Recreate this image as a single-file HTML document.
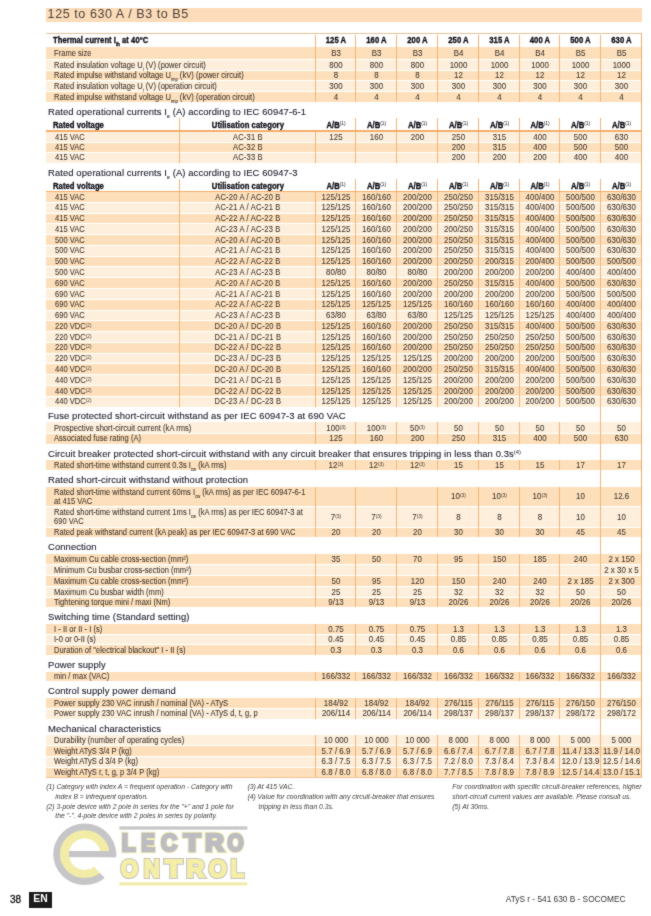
<!DOCTYPE html>
<html><head><meta charset="utf-8"><style>
html,body{margin:0;padding:0;background:#fff;}
body{width:651px;height:916px;position:relative;overflow:hidden;font-family:"Liberation Sans",sans-serif;}
div{position:absolute;}
#wrap{left:0;top:0;width:651px;height:916px;background:#fff;filter:url(#soft);}
.t{white-space:nowrap;-webkit-text-stroke:0.08px currentColor;}
.b{-webkit-text-stroke:0.35px currentColor !important;}
.h{-webkit-text-stroke:0.12px currentColor !important;}
.sup{-webkit-text-stroke:0 !important;font-weight:normal;font-size:0.62em;vertical-align:0.45em;line-height:0;letter-spacing:0;}
.sub{font-size:0.55em;vertical-align:-0.6em;line-height:0;letter-spacing:0;}
</style></head><body><svg width="0" height="0" style="position:absolute"><filter id="soft" x="0" y="0" width="100%" height="100%" color-interpolation-filters="sRGB"><feConvolveMatrix order="3" kernelMatrix="1 2 1 2 20 2 1 2 1" divisor="32.0" edgeMode="duplicate"/></filter></svg><div id="wrap">
<div style="left:46.00px;top:8.00px;width:595.50px;height:14.00px;background:#fcdbb8;"></div>
<div class="t" style="top:8.13px;font-size:12.6px;line-height:12.6px;color:#4a423c;font-weight:normal;font-style:normal;letter-spacing:0.54px;left:47.60px;white-space:nowrap;-webkit-text-stroke:0;">125 to 630 A / B3 to B5</div>
<div style="left:46.00px;top:33.00px;width:595.50px;height:1.40px;background:#ecc09a;"></div>
<div style="left:46.00px;top:46.80px;width:595.50px;height:12.40px;background:#fde0bb;"></div>
<div style="left:46.00px;top:59.20px;width:595.50px;height:11.20px;background:#fdefdc;"></div>
<div style="left:46.00px;top:59.00px;width:595.50px;height:1.00px;background:#ffffff;"></div>
<div style="left:46.00px;top:70.40px;width:595.50px;height:10.20px;background:#fde0bb;"></div>
<div style="left:46.00px;top:70.00px;width:595.50px;height:1.00px;background:#ffffff;"></div>
<div style="left:46.00px;top:80.60px;width:595.50px;height:10.60px;background:#fdefdc;"></div>
<div style="left:46.00px;top:80.00px;width:595.50px;height:1.00px;background:#ffffff;"></div>
<div style="left:46.00px;top:91.20px;width:595.50px;height:11.20px;background:#fde0bb;"></div>
<div style="left:46.00px;top:91.00px;width:595.50px;height:1.00px;background:#ffffff;"></div>
<div style="left:315.00px;top:34.50px;width:1.00px;height:67.90px;background:#f5b374;"></div>
<div style="left:355.00px;top:34.50px;width:1.00px;height:67.90px;background:#f5b374;"></div>
<div style="left:396.00px;top:34.50px;width:1.00px;height:67.90px;background:#f5b374;"></div>
<div style="left:437.00px;top:34.50px;width:1.00px;height:67.90px;background:#f5b374;"></div>
<div style="left:478.00px;top:34.50px;width:1.00px;height:67.90px;background:#f5b374;"></div>
<div style="left:519.00px;top:34.50px;width:1.00px;height:67.90px;background:#f5b374;"></div>
<div style="left:559.00px;top:34.50px;width:1.00px;height:67.90px;background:#f5b374;"></div>
<div style="left:600.00px;top:34.50px;width:1.00px;height:67.90px;background:#f5b374;"></div>
<div class="t" style="top:48.72px;font-size:8.6px;line-height:8.6px;color:#3f352e;font-weight:normal;font-style:normal;letter-spacing:0.03px;left:54.00px;transform:scaleX(0.878);transform-origin:0 0;">Frame size</div>
<div class="t" style="top:48.72px;font-size:8.6px;line-height:8.6px;color:#3f352e;font-weight:normal;font-style:normal;letter-spacing:0.03px;left:315.50px;width:40.00px;text-align:center;transform:scaleX(0.92);transform-origin:50% 0;">B3</div>
<div class="t" style="top:48.72px;font-size:8.6px;line-height:8.6px;color:#3f352e;font-weight:normal;font-style:normal;letter-spacing:0.03px;left:355.50px;width:41.00px;text-align:center;transform:scaleX(0.92);transform-origin:50% 0;">B3</div>
<div class="t" style="top:48.72px;font-size:8.6px;line-height:8.6px;color:#3f352e;font-weight:normal;font-style:normal;letter-spacing:0.03px;left:396.50px;width:41.00px;text-align:center;transform:scaleX(0.92);transform-origin:50% 0;">B3</div>
<div class="t" style="top:48.72px;font-size:8.6px;line-height:8.6px;color:#3f352e;font-weight:normal;font-style:normal;letter-spacing:0.03px;left:437.50px;width:41.00px;text-align:center;transform:scaleX(0.92);transform-origin:50% 0;">B4</div>
<div class="t" style="top:48.72px;font-size:8.6px;line-height:8.6px;color:#3f352e;font-weight:normal;font-style:normal;letter-spacing:0.03px;left:478.50px;width:41.00px;text-align:center;transform:scaleX(0.92);transform-origin:50% 0;">B4</div>
<div class="t" style="top:48.72px;font-size:8.6px;line-height:8.6px;color:#3f352e;font-weight:normal;font-style:normal;letter-spacing:0.03px;left:519.50px;width:40.00px;text-align:center;transform:scaleX(0.92);transform-origin:50% 0;">B4</div>
<div class="t" style="top:48.72px;font-size:8.6px;line-height:8.6px;color:#3f352e;font-weight:normal;font-style:normal;letter-spacing:0.03px;left:559.50px;width:41.00px;text-align:center;transform:scaleX(0.92);transform-origin:50% 0;">B5</div>
<div class="t" style="top:48.72px;font-size:8.6px;line-height:8.6px;color:#3f352e;font-weight:normal;font-style:normal;letter-spacing:0.03px;left:600.50px;width:41.00px;text-align:center;transform:scaleX(0.92);transform-origin:50% 0;">B5</div>
<div class="t" style="top:60.52px;font-size:8.6px;line-height:8.6px;color:#3f352e;font-weight:normal;font-style:normal;letter-spacing:0.03px;left:54.00px;transform:scaleX(0.878);transform-origin:0 0;">Rated insulation voltage U<span class="sub">i</span> (V) (power circuit)</div>
<div class="t" style="top:60.52px;font-size:8.6px;line-height:8.6px;color:#3f352e;font-weight:normal;font-style:normal;letter-spacing:0.03px;left:315.50px;width:40.00px;text-align:center;transform:scaleX(0.92);transform-origin:50% 0;">800</div>
<div class="t" style="top:60.52px;font-size:8.6px;line-height:8.6px;color:#3f352e;font-weight:normal;font-style:normal;letter-spacing:0.03px;left:355.50px;width:41.00px;text-align:center;transform:scaleX(0.92);transform-origin:50% 0;">800</div>
<div class="t" style="top:60.52px;font-size:8.6px;line-height:8.6px;color:#3f352e;font-weight:normal;font-style:normal;letter-spacing:0.03px;left:396.50px;width:41.00px;text-align:center;transform:scaleX(0.92);transform-origin:50% 0;">800</div>
<div class="t" style="top:60.52px;font-size:8.6px;line-height:8.6px;color:#3f352e;font-weight:normal;font-style:normal;letter-spacing:0.03px;left:437.50px;width:41.00px;text-align:center;transform:scaleX(0.92);transform-origin:50% 0;">1000</div>
<div class="t" style="top:60.52px;font-size:8.6px;line-height:8.6px;color:#3f352e;font-weight:normal;font-style:normal;letter-spacing:0.03px;left:478.50px;width:41.00px;text-align:center;transform:scaleX(0.92);transform-origin:50% 0;">1000</div>
<div class="t" style="top:60.52px;font-size:8.6px;line-height:8.6px;color:#3f352e;font-weight:normal;font-style:normal;letter-spacing:0.03px;left:519.50px;width:40.00px;text-align:center;transform:scaleX(0.92);transform-origin:50% 0;">1000</div>
<div class="t" style="top:60.52px;font-size:8.6px;line-height:8.6px;color:#3f352e;font-weight:normal;font-style:normal;letter-spacing:0.03px;left:559.50px;width:41.00px;text-align:center;transform:scaleX(0.92);transform-origin:50% 0;">1000</div>
<div class="t" style="top:60.52px;font-size:8.6px;line-height:8.6px;color:#3f352e;font-weight:normal;font-style:normal;letter-spacing:0.03px;left:600.50px;width:41.00px;text-align:center;transform:scaleX(0.92);transform-origin:50% 0;">1000</div>
<div class="t" style="top:71.22px;font-size:8.6px;line-height:8.6px;color:#3f352e;font-weight:normal;font-style:normal;letter-spacing:0.03px;left:54.00px;transform:scaleX(0.878);transform-origin:0 0;">Rated impulse withstand voltage U<span class="sub">imp</span> (kV) (power circuit)</div>
<div class="t" style="top:71.22px;font-size:8.6px;line-height:8.6px;color:#3f352e;font-weight:normal;font-style:normal;letter-spacing:0.03px;left:315.50px;width:40.00px;text-align:center;transform:scaleX(0.92);transform-origin:50% 0;">8</div>
<div class="t" style="top:71.22px;font-size:8.6px;line-height:8.6px;color:#3f352e;font-weight:normal;font-style:normal;letter-spacing:0.03px;left:355.50px;width:41.00px;text-align:center;transform:scaleX(0.92);transform-origin:50% 0;">8</div>
<div class="t" style="top:71.22px;font-size:8.6px;line-height:8.6px;color:#3f352e;font-weight:normal;font-style:normal;letter-spacing:0.03px;left:396.50px;width:41.00px;text-align:center;transform:scaleX(0.92);transform-origin:50% 0;">8</div>
<div class="t" style="top:71.22px;font-size:8.6px;line-height:8.6px;color:#3f352e;font-weight:normal;font-style:normal;letter-spacing:0.03px;left:437.50px;width:41.00px;text-align:center;transform:scaleX(0.92);transform-origin:50% 0;">12</div>
<div class="t" style="top:71.22px;font-size:8.6px;line-height:8.6px;color:#3f352e;font-weight:normal;font-style:normal;letter-spacing:0.03px;left:478.50px;width:41.00px;text-align:center;transform:scaleX(0.92);transform-origin:50% 0;">12</div>
<div class="t" style="top:71.22px;font-size:8.6px;line-height:8.6px;color:#3f352e;font-weight:normal;font-style:normal;letter-spacing:0.03px;left:519.50px;width:40.00px;text-align:center;transform:scaleX(0.92);transform-origin:50% 0;">12</div>
<div class="t" style="top:71.22px;font-size:8.6px;line-height:8.6px;color:#3f352e;font-weight:normal;font-style:normal;letter-spacing:0.03px;left:559.50px;width:41.00px;text-align:center;transform:scaleX(0.92);transform-origin:50% 0;">12</div>
<div class="t" style="top:71.22px;font-size:8.6px;line-height:8.6px;color:#3f352e;font-weight:normal;font-style:normal;letter-spacing:0.03px;left:600.50px;width:41.00px;text-align:center;transform:scaleX(0.92);transform-origin:50% 0;">12</div>
<div class="t" style="top:81.62px;font-size:8.6px;line-height:8.6px;color:#3f352e;font-weight:normal;font-style:normal;letter-spacing:0.03px;left:54.00px;transform:scaleX(0.878);transform-origin:0 0;">Rated insulation voltage U<span class="sub">i</span> (V) (operation circuit)</div>
<div class="t" style="top:81.62px;font-size:8.6px;line-height:8.6px;color:#3f352e;font-weight:normal;font-style:normal;letter-spacing:0.03px;left:315.50px;width:40.00px;text-align:center;transform:scaleX(0.92);transform-origin:50% 0;">300</div>
<div class="t" style="top:81.62px;font-size:8.6px;line-height:8.6px;color:#3f352e;font-weight:normal;font-style:normal;letter-spacing:0.03px;left:355.50px;width:41.00px;text-align:center;transform:scaleX(0.92);transform-origin:50% 0;">300</div>
<div class="t" style="top:81.62px;font-size:8.6px;line-height:8.6px;color:#3f352e;font-weight:normal;font-style:normal;letter-spacing:0.03px;left:396.50px;width:41.00px;text-align:center;transform:scaleX(0.92);transform-origin:50% 0;">300</div>
<div class="t" style="top:81.62px;font-size:8.6px;line-height:8.6px;color:#3f352e;font-weight:normal;font-style:normal;letter-spacing:0.03px;left:437.50px;width:41.00px;text-align:center;transform:scaleX(0.92);transform-origin:50% 0;">300</div>
<div class="t" style="top:81.62px;font-size:8.6px;line-height:8.6px;color:#3f352e;font-weight:normal;font-style:normal;letter-spacing:0.03px;left:478.50px;width:41.00px;text-align:center;transform:scaleX(0.92);transform-origin:50% 0;">300</div>
<div class="t" style="top:81.62px;font-size:8.6px;line-height:8.6px;color:#3f352e;font-weight:normal;font-style:normal;letter-spacing:0.03px;left:519.50px;width:40.00px;text-align:center;transform:scaleX(0.92);transform-origin:50% 0;">300</div>
<div class="t" style="top:81.62px;font-size:8.6px;line-height:8.6px;color:#3f352e;font-weight:normal;font-style:normal;letter-spacing:0.03px;left:559.50px;width:41.00px;text-align:center;transform:scaleX(0.92);transform-origin:50% 0;">300</div>
<div class="t" style="top:81.62px;font-size:8.6px;line-height:8.6px;color:#3f352e;font-weight:normal;font-style:normal;letter-spacing:0.03px;left:600.50px;width:41.00px;text-align:center;transform:scaleX(0.92);transform-origin:50% 0;">300</div>
<div class="t" style="top:92.52px;font-size:8.6px;line-height:8.6px;color:#3f352e;font-weight:normal;font-style:normal;letter-spacing:0.03px;left:54.00px;transform:scaleX(0.878);transform-origin:0 0;">Rated impulse withstand voltage U<span class="sub">imp</span> (kV) (operation circuit)</div>
<div class="t" style="top:92.52px;font-size:8.6px;line-height:8.6px;color:#3f352e;font-weight:normal;font-style:normal;letter-spacing:0.03px;left:315.50px;width:40.00px;text-align:center;transform:scaleX(0.92);transform-origin:50% 0;">4</div>
<div class="t" style="top:92.52px;font-size:8.6px;line-height:8.6px;color:#3f352e;font-weight:normal;font-style:normal;letter-spacing:0.03px;left:355.50px;width:41.00px;text-align:center;transform:scaleX(0.92);transform-origin:50% 0;">4</div>
<div class="t" style="top:92.52px;font-size:8.6px;line-height:8.6px;color:#3f352e;font-weight:normal;font-style:normal;letter-spacing:0.03px;left:396.50px;width:41.00px;text-align:center;transform:scaleX(0.92);transform-origin:50% 0;">4</div>
<div class="t" style="top:92.52px;font-size:8.6px;line-height:8.6px;color:#3f352e;font-weight:normal;font-style:normal;letter-spacing:0.03px;left:437.50px;width:41.00px;text-align:center;transform:scaleX(0.92);transform-origin:50% 0;">4</div>
<div class="t" style="top:92.52px;font-size:8.6px;line-height:8.6px;color:#3f352e;font-weight:normal;font-style:normal;letter-spacing:0.03px;left:478.50px;width:41.00px;text-align:center;transform:scaleX(0.92);transform-origin:50% 0;">4</div>
<div class="t" style="top:92.52px;font-size:8.6px;line-height:8.6px;color:#3f352e;font-weight:normal;font-style:normal;letter-spacing:0.03px;left:519.50px;width:40.00px;text-align:center;transform:scaleX(0.92);transform-origin:50% 0;">4</div>
<div class="t" style="top:92.52px;font-size:8.6px;line-height:8.6px;color:#3f352e;font-weight:normal;font-style:normal;letter-spacing:0.03px;left:559.50px;width:41.00px;text-align:center;transform:scaleX(0.92);transform-origin:50% 0;">4</div>
<div class="t" style="top:92.52px;font-size:8.6px;line-height:8.6px;color:#3f352e;font-weight:normal;font-style:normal;letter-spacing:0.03px;left:600.50px;width:41.00px;text-align:center;transform:scaleX(0.92);transform-origin:50% 0;">4</div>
<div class="t b" style="top:35.93px;font-size:9.3px;line-height:9.3px;color:#0e0e18;font-weight:bold;font-style:normal;letter-spacing:0.05px;left:52.80px;transform:scaleX(0.82);transform-origin:0 0;white-space:nowrap;">Thermal current I<span class="sub">th</span> at 40°C</div>
<div class="t b" style="top:35.34px;font-size:9.4px;line-height:9.4px;color:#0e0e18;font-weight:bold;font-style:normal;letter-spacing:0.05px;left:315.50px;width:40.00px;text-align:center;transform:scaleX(0.82);transform-origin:50% 0;">125 A</div>
<div class="t b" style="top:35.34px;font-size:9.4px;line-height:9.4px;color:#0e0e18;font-weight:bold;font-style:normal;letter-spacing:0.05px;left:355.50px;width:41.00px;text-align:center;transform:scaleX(0.82);transform-origin:50% 0;">160 A</div>
<div class="t b" style="top:35.34px;font-size:9.4px;line-height:9.4px;color:#0e0e18;font-weight:bold;font-style:normal;letter-spacing:0.05px;left:396.50px;width:41.00px;text-align:center;transform:scaleX(0.82);transform-origin:50% 0;">200 A</div>
<div class="t b" style="top:35.34px;font-size:9.4px;line-height:9.4px;color:#0e0e18;font-weight:bold;font-style:normal;letter-spacing:0.05px;left:437.50px;width:41.00px;text-align:center;transform:scaleX(0.82);transform-origin:50% 0;">250 A</div>
<div class="t b" style="top:35.34px;font-size:9.4px;line-height:9.4px;color:#0e0e18;font-weight:bold;font-style:normal;letter-spacing:0.05px;left:478.50px;width:41.00px;text-align:center;transform:scaleX(0.82);transform-origin:50% 0;">315 A</div>
<div class="t b" style="top:35.34px;font-size:9.4px;line-height:9.4px;color:#0e0e18;font-weight:bold;font-style:normal;letter-spacing:0.05px;left:519.50px;width:40.00px;text-align:center;transform:scaleX(0.82);transform-origin:50% 0;">400 A</div>
<div class="t b" style="top:35.34px;font-size:9.4px;line-height:9.4px;color:#0e0e18;font-weight:bold;font-style:normal;letter-spacing:0.05px;left:559.50px;width:41.00px;text-align:center;transform:scaleX(0.82);transform-origin:50% 0;">500 A</div>
<div class="t b" style="top:35.34px;font-size:9.4px;line-height:9.4px;color:#0e0e18;font-weight:bold;font-style:normal;letter-spacing:0.05px;left:600.50px;width:41.00px;text-align:center;transform:scaleX(0.82);transform-origin:50% 0;">630 A</div>
<div class="t h" style="top:107.02px;font-size:9.9px;line-height:9.9px;color:#1c1e2c;font-weight:normal;font-style:normal;letter-spacing:0.1px;left:47.80px;transform:scaleX(0.955);transform-origin:0 0;white-space:nowrap;">Rated operational currents I<span class="sub">e</span> (A) according to IEC 60947-6-1</div>
<div style="left:46.00px;top:131.80px;width:595.50px;height:10.40px;background:#fdefdc;"></div>
<div style="left:46.00px;top:142.20px;width:595.50px;height:10.20px;background:#fde0bb;"></div>
<div style="left:46.00px;top:142.00px;width:595.50px;height:1.00px;background:#ffffff;"></div>
<div style="left:46.00px;top:152.40px;width:595.50px;height:10.30px;background:#fdefdc;"></div>
<div style="left:46.00px;top:152.00px;width:595.50px;height:1.00px;background:#ffffff;"></div>
<div style="left:179.00px;top:118.00px;width:1.00px;height:44.70px;background:#f5b374;"></div>
<div style="left:315.00px;top:131.80px;width:1.00px;height:30.90px;background:#f5b374;"></div>
<div style="left:355.00px;top:118.00px;width:1.00px;height:44.70px;background:#f5b374;"></div>
<div style="left:396.00px;top:118.00px;width:1.00px;height:44.70px;background:#f5b374;"></div>
<div style="left:437.00px;top:118.00px;width:1.00px;height:44.70px;background:#f5b374;"></div>
<div style="left:478.00px;top:118.00px;width:1.00px;height:44.70px;background:#f5b374;"></div>
<div style="left:519.00px;top:118.00px;width:1.00px;height:44.70px;background:#f5b374;"></div>
<div style="left:559.00px;top:118.00px;width:1.00px;height:44.70px;background:#f5b374;"></div>
<div style="left:600.00px;top:118.00px;width:1.00px;height:44.70px;background:#f5b374;"></div>
<div class="t" style="top:132.72px;font-size:8.6px;line-height:8.6px;color:#3f352e;font-weight:normal;font-style:normal;letter-spacing:0.03px;left:54.50px;transform:scaleX(0.878);transform-origin:0 0;">415 VAC</div>
<div class="t" style="top:132.72px;font-size:8.6px;line-height:8.6px;color:#3f352e;font-weight:normal;font-style:normal;letter-spacing:0.22px;left:179.50px;width:135.80px;text-align:center;transform:scaleX(0.878);transform-origin:50% 0;">AC-31 B</div>
<div class="t" style="top:132.72px;font-size:8.6px;line-height:8.6px;color:#3f352e;font-weight:normal;font-style:normal;letter-spacing:0.03px;left:315.50px;width:40.00px;text-align:center;transform:scaleX(0.92);transform-origin:50% 0;">125</div>
<div class="t" style="top:132.72px;font-size:8.6px;line-height:8.6px;color:#3f352e;font-weight:normal;font-style:normal;letter-spacing:0.03px;left:355.50px;width:41.00px;text-align:center;transform:scaleX(0.92);transform-origin:50% 0;">160</div>
<div class="t" style="top:132.72px;font-size:8.6px;line-height:8.6px;color:#3f352e;font-weight:normal;font-style:normal;letter-spacing:0.03px;left:396.50px;width:41.00px;text-align:center;transform:scaleX(0.92);transform-origin:50% 0;">200</div>
<div class="t" style="top:132.72px;font-size:8.6px;line-height:8.6px;color:#3f352e;font-weight:normal;font-style:normal;letter-spacing:0.03px;left:437.50px;width:41.00px;text-align:center;transform:scaleX(0.92);transform-origin:50% 0;">250</div>
<div class="t" style="top:132.72px;font-size:8.6px;line-height:8.6px;color:#3f352e;font-weight:normal;font-style:normal;letter-spacing:0.03px;left:478.50px;width:41.00px;text-align:center;transform:scaleX(0.92);transform-origin:50% 0;">315</div>
<div class="t" style="top:132.72px;font-size:8.6px;line-height:8.6px;color:#3f352e;font-weight:normal;font-style:normal;letter-spacing:0.03px;left:519.50px;width:40.00px;text-align:center;transform:scaleX(0.92);transform-origin:50% 0;">400</div>
<div class="t" style="top:132.72px;font-size:8.6px;line-height:8.6px;color:#3f352e;font-weight:normal;font-style:normal;letter-spacing:0.03px;left:559.50px;width:41.00px;text-align:center;transform:scaleX(0.92);transform-origin:50% 0;">500</div>
<div class="t" style="top:132.72px;font-size:8.6px;line-height:8.6px;color:#3f352e;font-weight:normal;font-style:normal;letter-spacing:0.03px;left:600.50px;width:41.00px;text-align:center;transform:scaleX(0.92);transform-origin:50% 0;">630</div>
<div class="t" style="top:143.02px;font-size:8.6px;line-height:8.6px;color:#3f352e;font-weight:normal;font-style:normal;letter-spacing:0.03px;left:54.50px;transform:scaleX(0.878);transform-origin:0 0;">415 VAC</div>
<div class="t" style="top:143.02px;font-size:8.6px;line-height:8.6px;color:#3f352e;font-weight:normal;font-style:normal;letter-spacing:0.22px;left:179.50px;width:135.80px;text-align:center;transform:scaleX(0.878);transform-origin:50% 0;">AC-32 B</div>
<div class="t" style="top:143.02px;font-size:8.6px;line-height:8.6px;color:#3f352e;font-weight:normal;font-style:normal;letter-spacing:0.03px;left:437.50px;width:41.00px;text-align:center;transform:scaleX(0.92);transform-origin:50% 0;">200</div>
<div class="t" style="top:143.02px;font-size:8.6px;line-height:8.6px;color:#3f352e;font-weight:normal;font-style:normal;letter-spacing:0.03px;left:478.50px;width:41.00px;text-align:center;transform:scaleX(0.92);transform-origin:50% 0;">315</div>
<div class="t" style="top:143.02px;font-size:8.6px;line-height:8.6px;color:#3f352e;font-weight:normal;font-style:normal;letter-spacing:0.03px;left:519.50px;width:40.00px;text-align:center;transform:scaleX(0.92);transform-origin:50% 0;">400</div>
<div class="t" style="top:143.02px;font-size:8.6px;line-height:8.6px;color:#3f352e;font-weight:normal;font-style:normal;letter-spacing:0.03px;left:559.50px;width:41.00px;text-align:center;transform:scaleX(0.92);transform-origin:50% 0;">500</div>
<div class="t" style="top:143.02px;font-size:8.6px;line-height:8.6px;color:#3f352e;font-weight:normal;font-style:normal;letter-spacing:0.03px;left:600.50px;width:41.00px;text-align:center;transform:scaleX(0.92);transform-origin:50% 0;">500</div>
<div class="t" style="top:153.27px;font-size:8.6px;line-height:8.6px;color:#3f352e;font-weight:normal;font-style:normal;letter-spacing:0.03px;left:54.50px;transform:scaleX(0.878);transform-origin:0 0;">415 VAC</div>
<div class="t" style="top:153.27px;font-size:8.6px;line-height:8.6px;color:#3f352e;font-weight:normal;font-style:normal;letter-spacing:0.22px;left:179.50px;width:135.80px;text-align:center;transform:scaleX(0.878);transform-origin:50% 0;">AC-33 B</div>
<div class="t" style="top:153.27px;font-size:8.6px;line-height:8.6px;color:#3f352e;font-weight:normal;font-style:normal;letter-spacing:0.03px;left:437.50px;width:41.00px;text-align:center;transform:scaleX(0.92);transform-origin:50% 0;">200</div>
<div class="t" style="top:153.27px;font-size:8.6px;line-height:8.6px;color:#3f352e;font-weight:normal;font-style:normal;letter-spacing:0.03px;left:478.50px;width:41.00px;text-align:center;transform:scaleX(0.92);transform-origin:50% 0;">200</div>
<div class="t" style="top:153.27px;font-size:8.6px;line-height:8.6px;color:#3f352e;font-weight:normal;font-style:normal;letter-spacing:0.03px;left:519.50px;width:40.00px;text-align:center;transform:scaleX(0.92);transform-origin:50% 0;">200</div>
<div class="t" style="top:153.27px;font-size:8.6px;line-height:8.6px;color:#3f352e;font-weight:normal;font-style:normal;letter-spacing:0.03px;left:559.50px;width:41.00px;text-align:center;transform:scaleX(0.92);transform-origin:50% 0;">400</div>
<div class="t" style="top:153.27px;font-size:8.6px;line-height:8.6px;color:#3f352e;font-weight:normal;font-style:normal;letter-spacing:0.03px;left:600.50px;width:41.00px;text-align:center;transform:scaleX(0.92);transform-origin:50% 0;">400</div>
<div class="t b" style="top:120.14px;font-size:9.4px;line-height:9.4px;color:#0e0e18;font-weight:bold;font-style:normal;letter-spacing:0.05px;left:53.00px;transform:scaleX(0.82);transform-origin:0 0;">Rated voltage</div>
<div class="t b" style="top:120.14px;font-size:9.4px;line-height:9.4px;color:#0e0e18;font-weight:bold;font-style:normal;letter-spacing:0.05px;left:179.50px;width:135.80px;text-align:center;transform:scaleX(0.82);transform-origin:50% 0;">Utilisation category</div>
<div class="t b" style="top:120.14px;font-size:9.4px;line-height:9.4px;color:#0e0e18;font-weight:bold;font-style:normal;letter-spacing:0.0px;left:315.50px;width:40.00px;text-align:center;transform:scaleX(0.82);transform-origin:50% 0;">A/B<span class="sup">(1)</span></div>
<div class="t b" style="top:120.14px;font-size:9.4px;line-height:9.4px;color:#0e0e18;font-weight:bold;font-style:normal;letter-spacing:0.0px;left:355.50px;width:41.00px;text-align:center;transform:scaleX(0.82);transform-origin:50% 0;">A/B<span class="sup">(1)</span></div>
<div class="t b" style="top:120.14px;font-size:9.4px;line-height:9.4px;color:#0e0e18;font-weight:bold;font-style:normal;letter-spacing:0.0px;left:396.50px;width:41.00px;text-align:center;transform:scaleX(0.82);transform-origin:50% 0;">A/B<span class="sup">(1)</span></div>
<div class="t b" style="top:120.14px;font-size:9.4px;line-height:9.4px;color:#0e0e18;font-weight:bold;font-style:normal;letter-spacing:0.0px;left:437.50px;width:41.00px;text-align:center;transform:scaleX(0.82);transform-origin:50% 0;">A/B<span class="sup">(1)</span></div>
<div class="t b" style="top:120.14px;font-size:9.4px;line-height:9.4px;color:#0e0e18;font-weight:bold;font-style:normal;letter-spacing:0.0px;left:478.50px;width:41.00px;text-align:center;transform:scaleX(0.82);transform-origin:50% 0;">A/B<span class="sup">(1)</span></div>
<div class="t b" style="top:120.14px;font-size:9.4px;line-height:9.4px;color:#0e0e18;font-weight:bold;font-style:normal;letter-spacing:0.0px;left:519.50px;width:40.00px;text-align:center;transform:scaleX(0.82);transform-origin:50% 0;">A/B<span class="sup">(1)</span></div>
<div class="t b" style="top:120.14px;font-size:9.4px;line-height:9.4px;color:#0e0e18;font-weight:bold;font-style:normal;letter-spacing:0.0px;left:559.50px;width:41.00px;text-align:center;transform:scaleX(0.82);transform-origin:50% 0;">A/B<span class="sup">(1)</span></div>
<div class="t b" style="top:120.14px;font-size:9.4px;line-height:9.4px;color:#0e0e18;font-weight:bold;font-style:normal;letter-spacing:0.0px;left:600.50px;width:41.00px;text-align:center;transform:scaleX(0.82);transform-origin:50% 0;">A/B<span class="sup">(1)</span></div>
<div style="left:46.00px;top:130.30px;width:595.50px;height:1.50px;background:#f4ae6c;"></div>
<div class="t h" style="top:168.02px;font-size:9.9px;line-height:9.9px;color:#1c1e2c;font-weight:normal;font-style:normal;letter-spacing:0.1px;left:47.80px;transform:scaleX(0.955);transform-origin:0 0;white-space:nowrap;">Rated operational currents I<span class="sub">e</span> (A) according to IEC 60947-3</div>
<div style="left:46.00px;top:191.50px;width:595.50px;height:10.78px;background:#fde0bb;"></div>
<div style="left:46.00px;top:202.28px;width:595.50px;height:10.78px;background:#fdefdc;"></div>
<div style="left:46.00px;top:202.00px;width:595.50px;height:1.00px;background:#ffffff;"></div>
<div style="left:46.00px;top:213.05px;width:595.50px;height:10.77px;background:#fde0bb;"></div>
<div style="left:46.00px;top:213.00px;width:595.50px;height:1.00px;background:#ffffff;"></div>
<div style="left:46.00px;top:223.82px;width:595.50px;height:10.78px;background:#fdefdc;"></div>
<div style="left:46.00px;top:223.00px;width:595.50px;height:1.00px;background:#ffffff;"></div>
<div style="left:46.00px;top:234.60px;width:595.50px;height:10.78px;background:#fde0bb;"></div>
<div style="left:46.00px;top:234.00px;width:595.50px;height:1.00px;background:#ffffff;"></div>
<div style="left:46.00px;top:245.38px;width:595.50px;height:10.77px;background:#fdefdc;"></div>
<div style="left:46.00px;top:245.00px;width:595.50px;height:1.00px;background:#ffffff;"></div>
<div style="left:46.00px;top:256.15px;width:595.50px;height:10.78px;background:#fde0bb;"></div>
<div style="left:46.00px;top:256.00px;width:595.50px;height:1.00px;background:#ffffff;"></div>
<div style="left:46.00px;top:266.93px;width:595.50px;height:10.77px;background:#fdefdc;"></div>
<div style="left:46.00px;top:266.00px;width:595.50px;height:1.00px;background:#ffffff;"></div>
<div style="left:46.00px;top:277.70px;width:595.50px;height:10.78px;background:#fde0bb;"></div>
<div style="left:46.00px;top:277.00px;width:595.50px;height:1.00px;background:#ffffff;"></div>
<div style="left:46.00px;top:288.48px;width:595.50px;height:10.77px;background:#fdefdc;"></div>
<div style="left:46.00px;top:288.00px;width:595.50px;height:1.00px;background:#ffffff;"></div>
<div style="left:46.00px;top:299.25px;width:595.50px;height:10.77px;background:#fde0bb;"></div>
<div style="left:46.00px;top:299.00px;width:595.50px;height:1.00px;background:#ffffff;"></div>
<div style="left:46.00px;top:310.02px;width:595.50px;height:10.78px;background:#fdefdc;"></div>
<div style="left:46.00px;top:310.00px;width:595.50px;height:1.00px;background:#ffffff;"></div>
<div style="left:46.00px;top:320.80px;width:595.50px;height:10.77px;background:#fde0bb;"></div>
<div style="left:46.00px;top:320.00px;width:595.50px;height:1.00px;background:#ffffff;"></div>
<div style="left:46.00px;top:331.57px;width:595.50px;height:10.78px;background:#fdefdc;"></div>
<div style="left:46.00px;top:331.00px;width:595.50px;height:1.00px;background:#ffffff;"></div>
<div style="left:46.00px;top:342.35px;width:595.50px;height:10.77px;background:#fde0bb;"></div>
<div style="left:46.00px;top:342.00px;width:595.50px;height:1.00px;background:#ffffff;"></div>
<div style="left:46.00px;top:353.12px;width:595.50px;height:10.77px;background:#fdefdc;"></div>
<div style="left:46.00px;top:353.00px;width:595.50px;height:1.00px;background:#ffffff;"></div>
<div style="left:46.00px;top:363.90px;width:595.50px;height:10.78px;background:#fde0bb;"></div>
<div style="left:46.00px;top:363.00px;width:595.50px;height:1.00px;background:#ffffff;"></div>
<div style="left:46.00px;top:374.68px;width:595.50px;height:10.77px;background:#fdefdc;"></div>
<div style="left:46.00px;top:374.00px;width:595.50px;height:1.00px;background:#ffffff;"></div>
<div style="left:46.00px;top:385.45px;width:595.50px;height:10.78px;background:#fde0bb;"></div>
<div style="left:46.00px;top:385.00px;width:595.50px;height:1.00px;background:#ffffff;"></div>
<div style="left:46.00px;top:396.23px;width:595.50px;height:10.77px;background:#fdefdc;"></div>
<div style="left:46.00px;top:396.00px;width:595.50px;height:1.00px;background:#ffffff;"></div>
<div style="left:179.00px;top:178.50px;width:1.00px;height:228.50px;background:#f5b374;"></div>
<div style="left:315.00px;top:191.50px;width:1.00px;height:215.50px;background:#f5b374;"></div>
<div style="left:355.00px;top:178.50px;width:1.00px;height:228.50px;background:#f5b374;"></div>
<div style="left:396.00px;top:178.50px;width:1.00px;height:228.50px;background:#f5b374;"></div>
<div style="left:437.00px;top:178.50px;width:1.00px;height:228.50px;background:#f5b374;"></div>
<div style="left:478.00px;top:178.50px;width:1.00px;height:228.50px;background:#f5b374;"></div>
<div style="left:519.00px;top:178.50px;width:1.00px;height:228.50px;background:#f5b374;"></div>
<div style="left:559.00px;top:178.50px;width:1.00px;height:228.50px;background:#f5b374;"></div>
<div style="left:600.00px;top:178.50px;width:1.00px;height:228.50px;background:#f5b374;"></div>
<div class="t" style="top:192.61px;font-size:8.6px;line-height:8.6px;color:#3f352e;font-weight:normal;font-style:normal;letter-spacing:0.03px;left:54.50px;transform:scaleX(0.878);transform-origin:0 0;">415 VAC</div>
<div class="t" style="top:192.61px;font-size:8.6px;line-height:8.6px;color:#3f352e;font-weight:normal;font-style:normal;letter-spacing:0.22px;left:179.50px;width:135.80px;text-align:center;transform:scaleX(0.878);transform-origin:50% 0;">AC-20 A / AC-20 B</div>
<div class="t" style="top:192.61px;font-size:8.6px;line-height:8.6px;color:#3f352e;font-weight:normal;font-style:normal;letter-spacing:0.03px;left:315.50px;width:40.00px;text-align:center;transform:scaleX(0.92);transform-origin:50% 0;">125/125</div>
<div class="t" style="top:192.61px;font-size:8.6px;line-height:8.6px;color:#3f352e;font-weight:normal;font-style:normal;letter-spacing:0.03px;left:355.50px;width:41.00px;text-align:center;transform:scaleX(0.92);transform-origin:50% 0;">160/160</div>
<div class="t" style="top:192.61px;font-size:8.6px;line-height:8.6px;color:#3f352e;font-weight:normal;font-style:normal;letter-spacing:0.03px;left:396.50px;width:41.00px;text-align:center;transform:scaleX(0.92);transform-origin:50% 0;">200/200</div>
<div class="t" style="top:192.61px;font-size:8.6px;line-height:8.6px;color:#3f352e;font-weight:normal;font-style:normal;letter-spacing:0.03px;left:437.50px;width:41.00px;text-align:center;transform:scaleX(0.92);transform-origin:50% 0;">250/250</div>
<div class="t" style="top:192.61px;font-size:8.6px;line-height:8.6px;color:#3f352e;font-weight:normal;font-style:normal;letter-spacing:0.03px;left:478.50px;width:41.00px;text-align:center;transform:scaleX(0.92);transform-origin:50% 0;">315/315</div>
<div class="t" style="top:192.61px;font-size:8.6px;line-height:8.6px;color:#3f352e;font-weight:normal;font-style:normal;letter-spacing:0.03px;left:519.50px;width:40.00px;text-align:center;transform:scaleX(0.92);transform-origin:50% 0;">400/400</div>
<div class="t" style="top:192.61px;font-size:8.6px;line-height:8.6px;color:#3f352e;font-weight:normal;font-style:normal;letter-spacing:0.03px;left:559.50px;width:41.00px;text-align:center;transform:scaleX(0.92);transform-origin:50% 0;">500/500</div>
<div class="t" style="top:192.61px;font-size:8.6px;line-height:8.6px;color:#3f352e;font-weight:normal;font-style:normal;letter-spacing:0.03px;left:600.50px;width:41.00px;text-align:center;transform:scaleX(0.92);transform-origin:50% 0;">630/630</div>
<div class="t" style="top:203.38px;font-size:8.6px;line-height:8.6px;color:#3f352e;font-weight:normal;font-style:normal;letter-spacing:0.03px;left:54.50px;transform:scaleX(0.878);transform-origin:0 0;">415 VAC</div>
<div class="t" style="top:203.38px;font-size:8.6px;line-height:8.6px;color:#3f352e;font-weight:normal;font-style:normal;letter-spacing:0.22px;left:179.50px;width:135.80px;text-align:center;transform:scaleX(0.878);transform-origin:50% 0;">AC-21 A / AC-21 B</div>
<div class="t" style="top:203.38px;font-size:8.6px;line-height:8.6px;color:#3f352e;font-weight:normal;font-style:normal;letter-spacing:0.03px;left:315.50px;width:40.00px;text-align:center;transform:scaleX(0.92);transform-origin:50% 0;">125/125</div>
<div class="t" style="top:203.38px;font-size:8.6px;line-height:8.6px;color:#3f352e;font-weight:normal;font-style:normal;letter-spacing:0.03px;left:355.50px;width:41.00px;text-align:center;transform:scaleX(0.92);transform-origin:50% 0;">160/160</div>
<div class="t" style="top:203.38px;font-size:8.6px;line-height:8.6px;color:#3f352e;font-weight:normal;font-style:normal;letter-spacing:0.03px;left:396.50px;width:41.00px;text-align:center;transform:scaleX(0.92);transform-origin:50% 0;">200/200</div>
<div class="t" style="top:203.38px;font-size:8.6px;line-height:8.6px;color:#3f352e;font-weight:normal;font-style:normal;letter-spacing:0.03px;left:437.50px;width:41.00px;text-align:center;transform:scaleX(0.92);transform-origin:50% 0;">250/250</div>
<div class="t" style="top:203.38px;font-size:8.6px;line-height:8.6px;color:#3f352e;font-weight:normal;font-style:normal;letter-spacing:0.03px;left:478.50px;width:41.00px;text-align:center;transform:scaleX(0.92);transform-origin:50% 0;">315/315</div>
<div class="t" style="top:203.38px;font-size:8.6px;line-height:8.6px;color:#3f352e;font-weight:normal;font-style:normal;letter-spacing:0.03px;left:519.50px;width:40.00px;text-align:center;transform:scaleX(0.92);transform-origin:50% 0;">400/400</div>
<div class="t" style="top:203.38px;font-size:8.6px;line-height:8.6px;color:#3f352e;font-weight:normal;font-style:normal;letter-spacing:0.03px;left:559.50px;width:41.00px;text-align:center;transform:scaleX(0.92);transform-origin:50% 0;">500/500</div>
<div class="t" style="top:203.38px;font-size:8.6px;line-height:8.6px;color:#3f352e;font-weight:normal;font-style:normal;letter-spacing:0.03px;left:600.50px;width:41.00px;text-align:center;transform:scaleX(0.92);transform-origin:50% 0;">630/630</div>
<div class="t" style="top:214.16px;font-size:8.6px;line-height:8.6px;color:#3f352e;font-weight:normal;font-style:normal;letter-spacing:0.03px;left:54.50px;transform:scaleX(0.878);transform-origin:0 0;">415 VAC</div>
<div class="t" style="top:214.16px;font-size:8.6px;line-height:8.6px;color:#3f352e;font-weight:normal;font-style:normal;letter-spacing:0.22px;left:179.50px;width:135.80px;text-align:center;transform:scaleX(0.878);transform-origin:50% 0;">AC-22 A / AC-22 B</div>
<div class="t" style="top:214.16px;font-size:8.6px;line-height:8.6px;color:#3f352e;font-weight:normal;font-style:normal;letter-spacing:0.03px;left:315.50px;width:40.00px;text-align:center;transform:scaleX(0.92);transform-origin:50% 0;">125/125</div>
<div class="t" style="top:214.16px;font-size:8.6px;line-height:8.6px;color:#3f352e;font-weight:normal;font-style:normal;letter-spacing:0.03px;left:355.50px;width:41.00px;text-align:center;transform:scaleX(0.92);transform-origin:50% 0;">160/160</div>
<div class="t" style="top:214.16px;font-size:8.6px;line-height:8.6px;color:#3f352e;font-weight:normal;font-style:normal;letter-spacing:0.03px;left:396.50px;width:41.00px;text-align:center;transform:scaleX(0.92);transform-origin:50% 0;">200/200</div>
<div class="t" style="top:214.16px;font-size:8.6px;line-height:8.6px;color:#3f352e;font-weight:normal;font-style:normal;letter-spacing:0.03px;left:437.50px;width:41.00px;text-align:center;transform:scaleX(0.92);transform-origin:50% 0;">250/250</div>
<div class="t" style="top:214.16px;font-size:8.6px;line-height:8.6px;color:#3f352e;font-weight:normal;font-style:normal;letter-spacing:0.03px;left:478.50px;width:41.00px;text-align:center;transform:scaleX(0.92);transform-origin:50% 0;">315/315</div>
<div class="t" style="top:214.16px;font-size:8.6px;line-height:8.6px;color:#3f352e;font-weight:normal;font-style:normal;letter-spacing:0.03px;left:519.50px;width:40.00px;text-align:center;transform:scaleX(0.92);transform-origin:50% 0;">400/400</div>
<div class="t" style="top:214.16px;font-size:8.6px;line-height:8.6px;color:#3f352e;font-weight:normal;font-style:normal;letter-spacing:0.03px;left:559.50px;width:41.00px;text-align:center;transform:scaleX(0.92);transform-origin:50% 0;">500/500</div>
<div class="t" style="top:214.16px;font-size:8.6px;line-height:8.6px;color:#3f352e;font-weight:normal;font-style:normal;letter-spacing:0.03px;left:600.50px;width:41.00px;text-align:center;transform:scaleX(0.92);transform-origin:50% 0;">630/630</div>
<div class="t" style="top:224.93px;font-size:8.6px;line-height:8.6px;color:#3f352e;font-weight:normal;font-style:normal;letter-spacing:0.03px;left:54.50px;transform:scaleX(0.878);transform-origin:0 0;">415 VAC</div>
<div class="t" style="top:224.93px;font-size:8.6px;line-height:8.6px;color:#3f352e;font-weight:normal;font-style:normal;letter-spacing:0.22px;left:179.50px;width:135.80px;text-align:center;transform:scaleX(0.878);transform-origin:50% 0;">AC-23 A / AC-23 B</div>
<div class="t" style="top:224.93px;font-size:8.6px;line-height:8.6px;color:#3f352e;font-weight:normal;font-style:normal;letter-spacing:0.03px;left:315.50px;width:40.00px;text-align:center;transform:scaleX(0.92);transform-origin:50% 0;">125/125</div>
<div class="t" style="top:224.93px;font-size:8.6px;line-height:8.6px;color:#3f352e;font-weight:normal;font-style:normal;letter-spacing:0.03px;left:355.50px;width:41.00px;text-align:center;transform:scaleX(0.92);transform-origin:50% 0;">160/160</div>
<div class="t" style="top:224.93px;font-size:8.6px;line-height:8.6px;color:#3f352e;font-weight:normal;font-style:normal;letter-spacing:0.03px;left:396.50px;width:41.00px;text-align:center;transform:scaleX(0.92);transform-origin:50% 0;">200/200</div>
<div class="t" style="top:224.93px;font-size:8.6px;line-height:8.6px;color:#3f352e;font-weight:normal;font-style:normal;letter-spacing:0.03px;left:437.50px;width:41.00px;text-align:center;transform:scaleX(0.92);transform-origin:50% 0;">200/250</div>
<div class="t" style="top:224.93px;font-size:8.6px;line-height:8.6px;color:#3f352e;font-weight:normal;font-style:normal;letter-spacing:0.03px;left:478.50px;width:41.00px;text-align:center;transform:scaleX(0.92);transform-origin:50% 0;">315/315</div>
<div class="t" style="top:224.93px;font-size:8.6px;line-height:8.6px;color:#3f352e;font-weight:normal;font-style:normal;letter-spacing:0.03px;left:519.50px;width:40.00px;text-align:center;transform:scaleX(0.92);transform-origin:50% 0;">400/400</div>
<div class="t" style="top:224.93px;font-size:8.6px;line-height:8.6px;color:#3f352e;font-weight:normal;font-style:normal;letter-spacing:0.03px;left:559.50px;width:41.00px;text-align:center;transform:scaleX(0.92);transform-origin:50% 0;">500/500</div>
<div class="t" style="top:224.93px;font-size:8.6px;line-height:8.6px;color:#3f352e;font-weight:normal;font-style:normal;letter-spacing:0.03px;left:600.50px;width:41.00px;text-align:center;transform:scaleX(0.92);transform-origin:50% 0;">630/630</div>
<div class="t" style="top:235.71px;font-size:8.6px;line-height:8.6px;color:#3f352e;font-weight:normal;font-style:normal;letter-spacing:0.03px;left:54.50px;transform:scaleX(0.878);transform-origin:0 0;">500 VAC</div>
<div class="t" style="top:235.71px;font-size:8.6px;line-height:8.6px;color:#3f352e;font-weight:normal;font-style:normal;letter-spacing:0.22px;left:179.50px;width:135.80px;text-align:center;transform:scaleX(0.878);transform-origin:50% 0;">AC-20 A / AC-20 B</div>
<div class="t" style="top:235.71px;font-size:8.6px;line-height:8.6px;color:#3f352e;font-weight:normal;font-style:normal;letter-spacing:0.03px;left:315.50px;width:40.00px;text-align:center;transform:scaleX(0.92);transform-origin:50% 0;">125/125</div>
<div class="t" style="top:235.71px;font-size:8.6px;line-height:8.6px;color:#3f352e;font-weight:normal;font-style:normal;letter-spacing:0.03px;left:355.50px;width:41.00px;text-align:center;transform:scaleX(0.92);transform-origin:50% 0;">160/160</div>
<div class="t" style="top:235.71px;font-size:8.6px;line-height:8.6px;color:#3f352e;font-weight:normal;font-style:normal;letter-spacing:0.03px;left:396.50px;width:41.00px;text-align:center;transform:scaleX(0.92);transform-origin:50% 0;">200/200</div>
<div class="t" style="top:235.71px;font-size:8.6px;line-height:8.6px;color:#3f352e;font-weight:normal;font-style:normal;letter-spacing:0.03px;left:437.50px;width:41.00px;text-align:center;transform:scaleX(0.92);transform-origin:50% 0;">250/250</div>
<div class="t" style="top:235.71px;font-size:8.6px;line-height:8.6px;color:#3f352e;font-weight:normal;font-style:normal;letter-spacing:0.03px;left:478.50px;width:41.00px;text-align:center;transform:scaleX(0.92);transform-origin:50% 0;">315/315</div>
<div class="t" style="top:235.71px;font-size:8.6px;line-height:8.6px;color:#3f352e;font-weight:normal;font-style:normal;letter-spacing:0.03px;left:519.50px;width:40.00px;text-align:center;transform:scaleX(0.92);transform-origin:50% 0;">400/400</div>
<div class="t" style="top:235.71px;font-size:8.6px;line-height:8.6px;color:#3f352e;font-weight:normal;font-style:normal;letter-spacing:0.03px;left:559.50px;width:41.00px;text-align:center;transform:scaleX(0.92);transform-origin:50% 0;">500/500</div>
<div class="t" style="top:235.71px;font-size:8.6px;line-height:8.6px;color:#3f352e;font-weight:normal;font-style:normal;letter-spacing:0.03px;left:600.50px;width:41.00px;text-align:center;transform:scaleX(0.92);transform-origin:50% 0;">630/630</div>
<div class="t" style="top:246.48px;font-size:8.6px;line-height:8.6px;color:#3f352e;font-weight:normal;font-style:normal;letter-spacing:0.03px;left:54.50px;transform:scaleX(0.878);transform-origin:0 0;">500 VAC</div>
<div class="t" style="top:246.48px;font-size:8.6px;line-height:8.6px;color:#3f352e;font-weight:normal;font-style:normal;letter-spacing:0.22px;left:179.50px;width:135.80px;text-align:center;transform:scaleX(0.878);transform-origin:50% 0;">AC-21 A / AC-21 B</div>
<div class="t" style="top:246.48px;font-size:8.6px;line-height:8.6px;color:#3f352e;font-weight:normal;font-style:normal;letter-spacing:0.03px;left:315.50px;width:40.00px;text-align:center;transform:scaleX(0.92);transform-origin:50% 0;">125/125</div>
<div class="t" style="top:246.48px;font-size:8.6px;line-height:8.6px;color:#3f352e;font-weight:normal;font-style:normal;letter-spacing:0.03px;left:355.50px;width:41.00px;text-align:center;transform:scaleX(0.92);transform-origin:50% 0;">160/160</div>
<div class="t" style="top:246.48px;font-size:8.6px;line-height:8.6px;color:#3f352e;font-weight:normal;font-style:normal;letter-spacing:0.03px;left:396.50px;width:41.00px;text-align:center;transform:scaleX(0.92);transform-origin:50% 0;">200/200</div>
<div class="t" style="top:246.48px;font-size:8.6px;line-height:8.6px;color:#3f352e;font-weight:normal;font-style:normal;letter-spacing:0.03px;left:437.50px;width:41.00px;text-align:center;transform:scaleX(0.92);transform-origin:50% 0;">250/250</div>
<div class="t" style="top:246.48px;font-size:8.6px;line-height:8.6px;color:#3f352e;font-weight:normal;font-style:normal;letter-spacing:0.03px;left:478.50px;width:41.00px;text-align:center;transform:scaleX(0.92);transform-origin:50% 0;">315/315</div>
<div class="t" style="top:246.48px;font-size:8.6px;line-height:8.6px;color:#3f352e;font-weight:normal;font-style:normal;letter-spacing:0.03px;left:519.50px;width:40.00px;text-align:center;transform:scaleX(0.92);transform-origin:50% 0;">400/400</div>
<div class="t" style="top:246.48px;font-size:8.6px;line-height:8.6px;color:#3f352e;font-weight:normal;font-style:normal;letter-spacing:0.03px;left:559.50px;width:41.00px;text-align:center;transform:scaleX(0.92);transform-origin:50% 0;">500/500</div>
<div class="t" style="top:246.48px;font-size:8.6px;line-height:8.6px;color:#3f352e;font-weight:normal;font-style:normal;letter-spacing:0.03px;left:600.50px;width:41.00px;text-align:center;transform:scaleX(0.92);transform-origin:50% 0;">630/630</div>
<div class="t" style="top:257.26px;font-size:8.6px;line-height:8.6px;color:#3f352e;font-weight:normal;font-style:normal;letter-spacing:0.03px;left:54.50px;transform:scaleX(0.878);transform-origin:0 0;">500 VAC</div>
<div class="t" style="top:257.26px;font-size:8.6px;line-height:8.6px;color:#3f352e;font-weight:normal;font-style:normal;letter-spacing:0.22px;left:179.50px;width:135.80px;text-align:center;transform:scaleX(0.878);transform-origin:50% 0;">AC-22 A / AC-22 B</div>
<div class="t" style="top:257.26px;font-size:8.6px;line-height:8.6px;color:#3f352e;font-weight:normal;font-style:normal;letter-spacing:0.03px;left:315.50px;width:40.00px;text-align:center;transform:scaleX(0.92);transform-origin:50% 0;">125/125</div>
<div class="t" style="top:257.26px;font-size:8.6px;line-height:8.6px;color:#3f352e;font-weight:normal;font-style:normal;letter-spacing:0.03px;left:355.50px;width:41.00px;text-align:center;transform:scaleX(0.92);transform-origin:50% 0;">160/160</div>
<div class="t" style="top:257.26px;font-size:8.6px;line-height:8.6px;color:#3f352e;font-weight:normal;font-style:normal;letter-spacing:0.03px;left:396.50px;width:41.00px;text-align:center;transform:scaleX(0.92);transform-origin:50% 0;">200/200</div>
<div class="t" style="top:257.26px;font-size:8.6px;line-height:8.6px;color:#3f352e;font-weight:normal;font-style:normal;letter-spacing:0.03px;left:437.50px;width:41.00px;text-align:center;transform:scaleX(0.92);transform-origin:50% 0;">200/250</div>
<div class="t" style="top:257.26px;font-size:8.6px;line-height:8.6px;color:#3f352e;font-weight:normal;font-style:normal;letter-spacing:0.03px;left:478.50px;width:41.00px;text-align:center;transform:scaleX(0.92);transform-origin:50% 0;">200/315</div>
<div class="t" style="top:257.26px;font-size:8.6px;line-height:8.6px;color:#3f352e;font-weight:normal;font-style:normal;letter-spacing:0.03px;left:519.50px;width:40.00px;text-align:center;transform:scaleX(0.92);transform-origin:50% 0;">200/400</div>
<div class="t" style="top:257.26px;font-size:8.6px;line-height:8.6px;color:#3f352e;font-weight:normal;font-style:normal;letter-spacing:0.03px;left:559.50px;width:41.00px;text-align:center;transform:scaleX(0.92);transform-origin:50% 0;">500/500</div>
<div class="t" style="top:257.26px;font-size:8.6px;line-height:8.6px;color:#3f352e;font-weight:normal;font-style:normal;letter-spacing:0.03px;left:600.50px;width:41.00px;text-align:center;transform:scaleX(0.92);transform-origin:50% 0;">500/500</div>
<div class="t" style="top:268.03px;font-size:8.6px;line-height:8.6px;color:#3f352e;font-weight:normal;font-style:normal;letter-spacing:0.03px;left:54.50px;transform:scaleX(0.878);transform-origin:0 0;">500 VAC</div>
<div class="t" style="top:268.03px;font-size:8.6px;line-height:8.6px;color:#3f352e;font-weight:normal;font-style:normal;letter-spacing:0.22px;left:179.50px;width:135.80px;text-align:center;transform:scaleX(0.878);transform-origin:50% 0;">AC-23 A / AC-23 B</div>
<div class="t" style="top:268.03px;font-size:8.6px;line-height:8.6px;color:#3f352e;font-weight:normal;font-style:normal;letter-spacing:0.03px;left:315.50px;width:40.00px;text-align:center;transform:scaleX(0.92);transform-origin:50% 0;">80/80</div>
<div class="t" style="top:268.03px;font-size:8.6px;line-height:8.6px;color:#3f352e;font-weight:normal;font-style:normal;letter-spacing:0.03px;left:355.50px;width:41.00px;text-align:center;transform:scaleX(0.92);transform-origin:50% 0;">80/80</div>
<div class="t" style="top:268.03px;font-size:8.6px;line-height:8.6px;color:#3f352e;font-weight:normal;font-style:normal;letter-spacing:0.03px;left:396.50px;width:41.00px;text-align:center;transform:scaleX(0.92);transform-origin:50% 0;">80/80</div>
<div class="t" style="top:268.03px;font-size:8.6px;line-height:8.6px;color:#3f352e;font-weight:normal;font-style:normal;letter-spacing:0.03px;left:437.50px;width:41.00px;text-align:center;transform:scaleX(0.92);transform-origin:50% 0;">200/200</div>
<div class="t" style="top:268.03px;font-size:8.6px;line-height:8.6px;color:#3f352e;font-weight:normal;font-style:normal;letter-spacing:0.03px;left:478.50px;width:41.00px;text-align:center;transform:scaleX(0.92);transform-origin:50% 0;">200/200</div>
<div class="t" style="top:268.03px;font-size:8.6px;line-height:8.6px;color:#3f352e;font-weight:normal;font-style:normal;letter-spacing:0.03px;left:519.50px;width:40.00px;text-align:center;transform:scaleX(0.92);transform-origin:50% 0;">200/200</div>
<div class="t" style="top:268.03px;font-size:8.6px;line-height:8.6px;color:#3f352e;font-weight:normal;font-style:normal;letter-spacing:0.03px;left:559.50px;width:41.00px;text-align:center;transform:scaleX(0.92);transform-origin:50% 0;">400/400</div>
<div class="t" style="top:268.03px;font-size:8.6px;line-height:8.6px;color:#3f352e;font-weight:normal;font-style:normal;letter-spacing:0.03px;left:600.50px;width:41.00px;text-align:center;transform:scaleX(0.92);transform-origin:50% 0;">400/400</div>
<div class="t" style="top:278.81px;font-size:8.6px;line-height:8.6px;color:#3f352e;font-weight:normal;font-style:normal;letter-spacing:0.03px;left:54.50px;transform:scaleX(0.878);transform-origin:0 0;">690 VAC</div>
<div class="t" style="top:278.81px;font-size:8.6px;line-height:8.6px;color:#3f352e;font-weight:normal;font-style:normal;letter-spacing:0.22px;left:179.50px;width:135.80px;text-align:center;transform:scaleX(0.878);transform-origin:50% 0;">AC-20 A / AC-20 B</div>
<div class="t" style="top:278.81px;font-size:8.6px;line-height:8.6px;color:#3f352e;font-weight:normal;font-style:normal;letter-spacing:0.03px;left:315.50px;width:40.00px;text-align:center;transform:scaleX(0.92);transform-origin:50% 0;">125/125</div>
<div class="t" style="top:278.81px;font-size:8.6px;line-height:8.6px;color:#3f352e;font-weight:normal;font-style:normal;letter-spacing:0.03px;left:355.50px;width:41.00px;text-align:center;transform:scaleX(0.92);transform-origin:50% 0;">160/160</div>
<div class="t" style="top:278.81px;font-size:8.6px;line-height:8.6px;color:#3f352e;font-weight:normal;font-style:normal;letter-spacing:0.03px;left:396.50px;width:41.00px;text-align:center;transform:scaleX(0.92);transform-origin:50% 0;">200/200</div>
<div class="t" style="top:278.81px;font-size:8.6px;line-height:8.6px;color:#3f352e;font-weight:normal;font-style:normal;letter-spacing:0.03px;left:437.50px;width:41.00px;text-align:center;transform:scaleX(0.92);transform-origin:50% 0;">250/250</div>
<div class="t" style="top:278.81px;font-size:8.6px;line-height:8.6px;color:#3f352e;font-weight:normal;font-style:normal;letter-spacing:0.03px;left:478.50px;width:41.00px;text-align:center;transform:scaleX(0.92);transform-origin:50% 0;">315/315</div>
<div class="t" style="top:278.81px;font-size:8.6px;line-height:8.6px;color:#3f352e;font-weight:normal;font-style:normal;letter-spacing:0.03px;left:519.50px;width:40.00px;text-align:center;transform:scaleX(0.92);transform-origin:50% 0;">400/400</div>
<div class="t" style="top:278.81px;font-size:8.6px;line-height:8.6px;color:#3f352e;font-weight:normal;font-style:normal;letter-spacing:0.03px;left:559.50px;width:41.00px;text-align:center;transform:scaleX(0.92);transform-origin:50% 0;">500/500</div>
<div class="t" style="top:278.81px;font-size:8.6px;line-height:8.6px;color:#3f352e;font-weight:normal;font-style:normal;letter-spacing:0.03px;left:600.50px;width:41.00px;text-align:center;transform:scaleX(0.92);transform-origin:50% 0;">630/630</div>
<div class="t" style="top:289.58px;font-size:8.6px;line-height:8.6px;color:#3f352e;font-weight:normal;font-style:normal;letter-spacing:0.03px;left:54.50px;transform:scaleX(0.878);transform-origin:0 0;">690 VAC</div>
<div class="t" style="top:289.58px;font-size:8.6px;line-height:8.6px;color:#3f352e;font-weight:normal;font-style:normal;letter-spacing:0.22px;left:179.50px;width:135.80px;text-align:center;transform:scaleX(0.878);transform-origin:50% 0;">AC-21 A / AC-21 B</div>
<div class="t" style="top:289.58px;font-size:8.6px;line-height:8.6px;color:#3f352e;font-weight:normal;font-style:normal;letter-spacing:0.03px;left:315.50px;width:40.00px;text-align:center;transform:scaleX(0.92);transform-origin:50% 0;">125/125</div>
<div class="t" style="top:289.58px;font-size:8.6px;line-height:8.6px;color:#3f352e;font-weight:normal;font-style:normal;letter-spacing:0.03px;left:355.50px;width:41.00px;text-align:center;transform:scaleX(0.92);transform-origin:50% 0;">160/160</div>
<div class="t" style="top:289.58px;font-size:8.6px;line-height:8.6px;color:#3f352e;font-weight:normal;font-style:normal;letter-spacing:0.03px;left:396.50px;width:41.00px;text-align:center;transform:scaleX(0.92);transform-origin:50% 0;">200/200</div>
<div class="t" style="top:289.58px;font-size:8.6px;line-height:8.6px;color:#3f352e;font-weight:normal;font-style:normal;letter-spacing:0.03px;left:437.50px;width:41.00px;text-align:center;transform:scaleX(0.92);transform-origin:50% 0;">200/200</div>
<div class="t" style="top:289.58px;font-size:8.6px;line-height:8.6px;color:#3f352e;font-weight:normal;font-style:normal;letter-spacing:0.03px;left:478.50px;width:41.00px;text-align:center;transform:scaleX(0.92);transform-origin:50% 0;">200/200</div>
<div class="t" style="top:289.58px;font-size:8.6px;line-height:8.6px;color:#3f352e;font-weight:normal;font-style:normal;letter-spacing:0.03px;left:519.50px;width:40.00px;text-align:center;transform:scaleX(0.92);transform-origin:50% 0;">200/200</div>
<div class="t" style="top:289.58px;font-size:8.6px;line-height:8.6px;color:#3f352e;font-weight:normal;font-style:normal;letter-spacing:0.03px;left:559.50px;width:41.00px;text-align:center;transform:scaleX(0.92);transform-origin:50% 0;">500/500</div>
<div class="t" style="top:289.58px;font-size:8.6px;line-height:8.6px;color:#3f352e;font-weight:normal;font-style:normal;letter-spacing:0.03px;left:600.50px;width:41.00px;text-align:center;transform:scaleX(0.92);transform-origin:50% 0;">500/500</div>
<div class="t" style="top:300.36px;font-size:8.6px;line-height:8.6px;color:#3f352e;font-weight:normal;font-style:normal;letter-spacing:0.03px;left:54.50px;transform:scaleX(0.878);transform-origin:0 0;">690 VAC</div>
<div class="t" style="top:300.36px;font-size:8.6px;line-height:8.6px;color:#3f352e;font-weight:normal;font-style:normal;letter-spacing:0.22px;left:179.50px;width:135.80px;text-align:center;transform:scaleX(0.878);transform-origin:50% 0;">AC-22 A / AC-22 B</div>
<div class="t" style="top:300.36px;font-size:8.6px;line-height:8.6px;color:#3f352e;font-weight:normal;font-style:normal;letter-spacing:0.03px;left:315.50px;width:40.00px;text-align:center;transform:scaleX(0.92);transform-origin:50% 0;">125/125</div>
<div class="t" style="top:300.36px;font-size:8.6px;line-height:8.6px;color:#3f352e;font-weight:normal;font-style:normal;letter-spacing:0.03px;left:355.50px;width:41.00px;text-align:center;transform:scaleX(0.92);transform-origin:50% 0;">125/125</div>
<div class="t" style="top:300.36px;font-size:8.6px;line-height:8.6px;color:#3f352e;font-weight:normal;font-style:normal;letter-spacing:0.03px;left:396.50px;width:41.00px;text-align:center;transform:scaleX(0.92);transform-origin:50% 0;">125/125</div>
<div class="t" style="top:300.36px;font-size:8.6px;line-height:8.6px;color:#3f352e;font-weight:normal;font-style:normal;letter-spacing:0.03px;left:437.50px;width:41.00px;text-align:center;transform:scaleX(0.92);transform-origin:50% 0;">160/160</div>
<div class="t" style="top:300.36px;font-size:8.6px;line-height:8.6px;color:#3f352e;font-weight:normal;font-style:normal;letter-spacing:0.03px;left:478.50px;width:41.00px;text-align:center;transform:scaleX(0.92);transform-origin:50% 0;">160/160</div>
<div class="t" style="top:300.36px;font-size:8.6px;line-height:8.6px;color:#3f352e;font-weight:normal;font-style:normal;letter-spacing:0.03px;left:519.50px;width:40.00px;text-align:center;transform:scaleX(0.92);transform-origin:50% 0;">160/160</div>
<div class="t" style="top:300.36px;font-size:8.6px;line-height:8.6px;color:#3f352e;font-weight:normal;font-style:normal;letter-spacing:0.03px;left:559.50px;width:41.00px;text-align:center;transform:scaleX(0.92);transform-origin:50% 0;">400/400</div>
<div class="t" style="top:300.36px;font-size:8.6px;line-height:8.6px;color:#3f352e;font-weight:normal;font-style:normal;letter-spacing:0.03px;left:600.50px;width:41.00px;text-align:center;transform:scaleX(0.92);transform-origin:50% 0;">400/400</div>
<div class="t" style="top:311.13px;font-size:8.6px;line-height:8.6px;color:#3f352e;font-weight:normal;font-style:normal;letter-spacing:0.03px;left:54.50px;transform:scaleX(0.878);transform-origin:0 0;">690 VAC</div>
<div class="t" style="top:311.13px;font-size:8.6px;line-height:8.6px;color:#3f352e;font-weight:normal;font-style:normal;letter-spacing:0.22px;left:179.50px;width:135.80px;text-align:center;transform:scaleX(0.878);transform-origin:50% 0;">AC-23 A / AC-23 B</div>
<div class="t" style="top:311.13px;font-size:8.6px;line-height:8.6px;color:#3f352e;font-weight:normal;font-style:normal;letter-spacing:0.03px;left:315.50px;width:40.00px;text-align:center;transform:scaleX(0.92);transform-origin:50% 0;">63/80</div>
<div class="t" style="top:311.13px;font-size:8.6px;line-height:8.6px;color:#3f352e;font-weight:normal;font-style:normal;letter-spacing:0.03px;left:355.50px;width:41.00px;text-align:center;transform:scaleX(0.92);transform-origin:50% 0;">63/80</div>
<div class="t" style="top:311.13px;font-size:8.6px;line-height:8.6px;color:#3f352e;font-weight:normal;font-style:normal;letter-spacing:0.03px;left:396.50px;width:41.00px;text-align:center;transform:scaleX(0.92);transform-origin:50% 0;">63/80</div>
<div class="t" style="top:311.13px;font-size:8.6px;line-height:8.6px;color:#3f352e;font-weight:normal;font-style:normal;letter-spacing:0.03px;left:437.50px;width:41.00px;text-align:center;transform:scaleX(0.92);transform-origin:50% 0;">125/125</div>
<div class="t" style="top:311.13px;font-size:8.6px;line-height:8.6px;color:#3f352e;font-weight:normal;font-style:normal;letter-spacing:0.03px;left:478.50px;width:41.00px;text-align:center;transform:scaleX(0.92);transform-origin:50% 0;">125/125</div>
<div class="t" style="top:311.13px;font-size:8.6px;line-height:8.6px;color:#3f352e;font-weight:normal;font-style:normal;letter-spacing:0.03px;left:519.50px;width:40.00px;text-align:center;transform:scaleX(0.92);transform-origin:50% 0;">125/125</div>
<div class="t" style="top:311.13px;font-size:8.6px;line-height:8.6px;color:#3f352e;font-weight:normal;font-style:normal;letter-spacing:0.03px;left:559.50px;width:41.00px;text-align:center;transform:scaleX(0.92);transform-origin:50% 0;">400/400</div>
<div class="t" style="top:311.13px;font-size:8.6px;line-height:8.6px;color:#3f352e;font-weight:normal;font-style:normal;letter-spacing:0.03px;left:600.50px;width:41.00px;text-align:center;transform:scaleX(0.92);transform-origin:50% 0;">400/400</div>
<div class="t" style="top:321.91px;font-size:8.6px;line-height:8.6px;color:#3f352e;font-weight:normal;font-style:normal;letter-spacing:0.03px;left:54.50px;transform:scaleX(0.878);transform-origin:0 0;">220 VDC<span class="sup">(2)</span></div>
<div class="t" style="top:321.91px;font-size:8.6px;line-height:8.6px;color:#3f352e;font-weight:normal;font-style:normal;letter-spacing:0.22px;left:179.50px;width:135.80px;text-align:center;transform:scaleX(0.878);transform-origin:50% 0;">DC-20 A / DC-20 B</div>
<div class="t" style="top:321.91px;font-size:8.6px;line-height:8.6px;color:#3f352e;font-weight:normal;font-style:normal;letter-spacing:0.03px;left:315.50px;width:40.00px;text-align:center;transform:scaleX(0.92);transform-origin:50% 0;">125/125</div>
<div class="t" style="top:321.91px;font-size:8.6px;line-height:8.6px;color:#3f352e;font-weight:normal;font-style:normal;letter-spacing:0.03px;left:355.50px;width:41.00px;text-align:center;transform:scaleX(0.92);transform-origin:50% 0;">160/160</div>
<div class="t" style="top:321.91px;font-size:8.6px;line-height:8.6px;color:#3f352e;font-weight:normal;font-style:normal;letter-spacing:0.03px;left:396.50px;width:41.00px;text-align:center;transform:scaleX(0.92);transform-origin:50% 0;">200/200</div>
<div class="t" style="top:321.91px;font-size:8.6px;line-height:8.6px;color:#3f352e;font-weight:normal;font-style:normal;letter-spacing:0.03px;left:437.50px;width:41.00px;text-align:center;transform:scaleX(0.92);transform-origin:50% 0;">250/250</div>
<div class="t" style="top:321.91px;font-size:8.6px;line-height:8.6px;color:#3f352e;font-weight:normal;font-style:normal;letter-spacing:0.03px;left:478.50px;width:41.00px;text-align:center;transform:scaleX(0.92);transform-origin:50% 0;">315/315</div>
<div class="t" style="top:321.91px;font-size:8.6px;line-height:8.6px;color:#3f352e;font-weight:normal;font-style:normal;letter-spacing:0.03px;left:519.50px;width:40.00px;text-align:center;transform:scaleX(0.92);transform-origin:50% 0;">400/400</div>
<div class="t" style="top:321.91px;font-size:8.6px;line-height:8.6px;color:#3f352e;font-weight:normal;font-style:normal;letter-spacing:0.03px;left:559.50px;width:41.00px;text-align:center;transform:scaleX(0.92);transform-origin:50% 0;">500/500</div>
<div class="t" style="top:321.91px;font-size:8.6px;line-height:8.6px;color:#3f352e;font-weight:normal;font-style:normal;letter-spacing:0.03px;left:600.50px;width:41.00px;text-align:center;transform:scaleX(0.92);transform-origin:50% 0;">630/630</div>
<div class="t" style="top:332.68px;font-size:8.6px;line-height:8.6px;color:#3f352e;font-weight:normal;font-style:normal;letter-spacing:0.03px;left:54.50px;transform:scaleX(0.878);transform-origin:0 0;">220 VDC<span class="sup">(2)</span></div>
<div class="t" style="top:332.68px;font-size:8.6px;line-height:8.6px;color:#3f352e;font-weight:normal;font-style:normal;letter-spacing:0.22px;left:179.50px;width:135.80px;text-align:center;transform:scaleX(0.878);transform-origin:50% 0;">DC-21 A / DC-21 B</div>
<div class="t" style="top:332.68px;font-size:8.6px;line-height:8.6px;color:#3f352e;font-weight:normal;font-style:normal;letter-spacing:0.03px;left:315.50px;width:40.00px;text-align:center;transform:scaleX(0.92);transform-origin:50% 0;">125/125</div>
<div class="t" style="top:332.68px;font-size:8.6px;line-height:8.6px;color:#3f352e;font-weight:normal;font-style:normal;letter-spacing:0.03px;left:355.50px;width:41.00px;text-align:center;transform:scaleX(0.92);transform-origin:50% 0;">160/160</div>
<div class="t" style="top:332.68px;font-size:8.6px;line-height:8.6px;color:#3f352e;font-weight:normal;font-style:normal;letter-spacing:0.03px;left:396.50px;width:41.00px;text-align:center;transform:scaleX(0.92);transform-origin:50% 0;">200/200</div>
<div class="t" style="top:332.68px;font-size:8.6px;line-height:8.6px;color:#3f352e;font-weight:normal;font-style:normal;letter-spacing:0.03px;left:437.50px;width:41.00px;text-align:center;transform:scaleX(0.92);transform-origin:50% 0;">250/250</div>
<div class="t" style="top:332.68px;font-size:8.6px;line-height:8.6px;color:#3f352e;font-weight:normal;font-style:normal;letter-spacing:0.03px;left:478.50px;width:41.00px;text-align:center;transform:scaleX(0.92);transform-origin:50% 0;">250/250</div>
<div class="t" style="top:332.68px;font-size:8.6px;line-height:8.6px;color:#3f352e;font-weight:normal;font-style:normal;letter-spacing:0.03px;left:519.50px;width:40.00px;text-align:center;transform:scaleX(0.92);transform-origin:50% 0;">250/250</div>
<div class="t" style="top:332.68px;font-size:8.6px;line-height:8.6px;color:#3f352e;font-weight:normal;font-style:normal;letter-spacing:0.03px;left:559.50px;width:41.00px;text-align:center;transform:scaleX(0.92);transform-origin:50% 0;">500/500</div>
<div class="t" style="top:332.68px;font-size:8.6px;line-height:8.6px;color:#3f352e;font-weight:normal;font-style:normal;letter-spacing:0.03px;left:600.50px;width:41.00px;text-align:center;transform:scaleX(0.92);transform-origin:50% 0;">630/630</div>
<div class="t" style="top:343.46px;font-size:8.6px;line-height:8.6px;color:#3f352e;font-weight:normal;font-style:normal;letter-spacing:0.03px;left:54.50px;transform:scaleX(0.878);transform-origin:0 0;">220 VDC<span class="sup">(2)</span></div>
<div class="t" style="top:343.46px;font-size:8.6px;line-height:8.6px;color:#3f352e;font-weight:normal;font-style:normal;letter-spacing:0.22px;left:179.50px;width:135.80px;text-align:center;transform:scaleX(0.878);transform-origin:50% 0;">DC-22 A / DC-22 B</div>
<div class="t" style="top:343.46px;font-size:8.6px;line-height:8.6px;color:#3f352e;font-weight:normal;font-style:normal;letter-spacing:0.03px;left:315.50px;width:40.00px;text-align:center;transform:scaleX(0.92);transform-origin:50% 0;">125/125</div>
<div class="t" style="top:343.46px;font-size:8.6px;line-height:8.6px;color:#3f352e;font-weight:normal;font-style:normal;letter-spacing:0.03px;left:355.50px;width:41.00px;text-align:center;transform:scaleX(0.92);transform-origin:50% 0;">160/160</div>
<div class="t" style="top:343.46px;font-size:8.6px;line-height:8.6px;color:#3f352e;font-weight:normal;font-style:normal;letter-spacing:0.03px;left:396.50px;width:41.00px;text-align:center;transform:scaleX(0.92);transform-origin:50% 0;">200/200</div>
<div class="t" style="top:343.46px;font-size:8.6px;line-height:8.6px;color:#3f352e;font-weight:normal;font-style:normal;letter-spacing:0.03px;left:437.50px;width:41.00px;text-align:center;transform:scaleX(0.92);transform-origin:50% 0;">250/250</div>
<div class="t" style="top:343.46px;font-size:8.6px;line-height:8.6px;color:#3f352e;font-weight:normal;font-style:normal;letter-spacing:0.03px;left:478.50px;width:41.00px;text-align:center;transform:scaleX(0.92);transform-origin:50% 0;">250/250</div>
<div class="t" style="top:343.46px;font-size:8.6px;line-height:8.6px;color:#3f352e;font-weight:normal;font-style:normal;letter-spacing:0.03px;left:519.50px;width:40.00px;text-align:center;transform:scaleX(0.92);transform-origin:50% 0;">250/250</div>
<div class="t" style="top:343.46px;font-size:8.6px;line-height:8.6px;color:#3f352e;font-weight:normal;font-style:normal;letter-spacing:0.03px;left:559.50px;width:41.00px;text-align:center;transform:scaleX(0.92);transform-origin:50% 0;">500/500</div>
<div class="t" style="top:343.46px;font-size:8.6px;line-height:8.6px;color:#3f352e;font-weight:normal;font-style:normal;letter-spacing:0.03px;left:600.50px;width:41.00px;text-align:center;transform:scaleX(0.92);transform-origin:50% 0;">630/630</div>
<div class="t" style="top:354.23px;font-size:8.6px;line-height:8.6px;color:#3f352e;font-weight:normal;font-style:normal;letter-spacing:0.03px;left:54.50px;transform:scaleX(0.878);transform-origin:0 0;">220 VDC<span class="sup">(2)</span></div>
<div class="t" style="top:354.23px;font-size:8.6px;line-height:8.6px;color:#3f352e;font-weight:normal;font-style:normal;letter-spacing:0.22px;left:179.50px;width:135.80px;text-align:center;transform:scaleX(0.878);transform-origin:50% 0;">DC-23 A / DC-23 B</div>
<div class="t" style="top:354.23px;font-size:8.6px;line-height:8.6px;color:#3f352e;font-weight:normal;font-style:normal;letter-spacing:0.03px;left:315.50px;width:40.00px;text-align:center;transform:scaleX(0.92);transform-origin:50% 0;">125/125</div>
<div class="t" style="top:354.23px;font-size:8.6px;line-height:8.6px;color:#3f352e;font-weight:normal;font-style:normal;letter-spacing:0.03px;left:355.50px;width:41.00px;text-align:center;transform:scaleX(0.92);transform-origin:50% 0;">125/125</div>
<div class="t" style="top:354.23px;font-size:8.6px;line-height:8.6px;color:#3f352e;font-weight:normal;font-style:normal;letter-spacing:0.03px;left:396.50px;width:41.00px;text-align:center;transform:scaleX(0.92);transform-origin:50% 0;">125/125</div>
<div class="t" style="top:354.23px;font-size:8.6px;line-height:8.6px;color:#3f352e;font-weight:normal;font-style:normal;letter-spacing:0.03px;left:437.50px;width:41.00px;text-align:center;transform:scaleX(0.92);transform-origin:50% 0;">200/200</div>
<div class="t" style="top:354.23px;font-size:8.6px;line-height:8.6px;color:#3f352e;font-weight:normal;font-style:normal;letter-spacing:0.03px;left:478.50px;width:41.00px;text-align:center;transform:scaleX(0.92);transform-origin:50% 0;">200/200</div>
<div class="t" style="top:354.23px;font-size:8.6px;line-height:8.6px;color:#3f352e;font-weight:normal;font-style:normal;letter-spacing:0.03px;left:519.50px;width:40.00px;text-align:center;transform:scaleX(0.92);transform-origin:50% 0;">200/200</div>
<div class="t" style="top:354.23px;font-size:8.6px;line-height:8.6px;color:#3f352e;font-weight:normal;font-style:normal;letter-spacing:0.03px;left:559.50px;width:41.00px;text-align:center;transform:scaleX(0.92);transform-origin:50% 0;">500/500</div>
<div class="t" style="top:354.23px;font-size:8.6px;line-height:8.6px;color:#3f352e;font-weight:normal;font-style:normal;letter-spacing:0.03px;left:600.50px;width:41.00px;text-align:center;transform:scaleX(0.92);transform-origin:50% 0;">630/630</div>
<div class="t" style="top:365.01px;font-size:8.6px;line-height:8.6px;color:#3f352e;font-weight:normal;font-style:normal;letter-spacing:0.03px;left:54.50px;transform:scaleX(0.878);transform-origin:0 0;">440 VDC<span class="sup">(2)</span></div>
<div class="t" style="top:365.01px;font-size:8.6px;line-height:8.6px;color:#3f352e;font-weight:normal;font-style:normal;letter-spacing:0.22px;left:179.50px;width:135.80px;text-align:center;transform:scaleX(0.878);transform-origin:50% 0;">DC-20 A / DC-20 B</div>
<div class="t" style="top:365.01px;font-size:8.6px;line-height:8.6px;color:#3f352e;font-weight:normal;font-style:normal;letter-spacing:0.03px;left:315.50px;width:40.00px;text-align:center;transform:scaleX(0.92);transform-origin:50% 0;">125/125</div>
<div class="t" style="top:365.01px;font-size:8.6px;line-height:8.6px;color:#3f352e;font-weight:normal;font-style:normal;letter-spacing:0.03px;left:355.50px;width:41.00px;text-align:center;transform:scaleX(0.92);transform-origin:50% 0;">160/160</div>
<div class="t" style="top:365.01px;font-size:8.6px;line-height:8.6px;color:#3f352e;font-weight:normal;font-style:normal;letter-spacing:0.03px;left:396.50px;width:41.00px;text-align:center;transform:scaleX(0.92);transform-origin:50% 0;">200/200</div>
<div class="t" style="top:365.01px;font-size:8.6px;line-height:8.6px;color:#3f352e;font-weight:normal;font-style:normal;letter-spacing:0.03px;left:437.50px;width:41.00px;text-align:center;transform:scaleX(0.92);transform-origin:50% 0;">250/250</div>
<div class="t" style="top:365.01px;font-size:8.6px;line-height:8.6px;color:#3f352e;font-weight:normal;font-style:normal;letter-spacing:0.03px;left:478.50px;width:41.00px;text-align:center;transform:scaleX(0.92);transform-origin:50% 0;">315/315</div>
<div class="t" style="top:365.01px;font-size:8.6px;line-height:8.6px;color:#3f352e;font-weight:normal;font-style:normal;letter-spacing:0.03px;left:519.50px;width:40.00px;text-align:center;transform:scaleX(0.92);transform-origin:50% 0;">400/400</div>
<div class="t" style="top:365.01px;font-size:8.6px;line-height:8.6px;color:#3f352e;font-weight:normal;font-style:normal;letter-spacing:0.03px;left:559.50px;width:41.00px;text-align:center;transform:scaleX(0.92);transform-origin:50% 0;">500/500</div>
<div class="t" style="top:365.01px;font-size:8.6px;line-height:8.6px;color:#3f352e;font-weight:normal;font-style:normal;letter-spacing:0.03px;left:600.50px;width:41.00px;text-align:center;transform:scaleX(0.92);transform-origin:50% 0;">630/630</div>
<div class="t" style="top:375.78px;font-size:8.6px;line-height:8.6px;color:#3f352e;font-weight:normal;font-style:normal;letter-spacing:0.03px;left:54.50px;transform:scaleX(0.878);transform-origin:0 0;">440 VDC<span class="sup">(2)</span></div>
<div class="t" style="top:375.78px;font-size:8.6px;line-height:8.6px;color:#3f352e;font-weight:normal;font-style:normal;letter-spacing:0.22px;left:179.50px;width:135.80px;text-align:center;transform:scaleX(0.878);transform-origin:50% 0;">DC-21 A / DC-21 B</div>
<div class="t" style="top:375.78px;font-size:8.6px;line-height:8.6px;color:#3f352e;font-weight:normal;font-style:normal;letter-spacing:0.03px;left:315.50px;width:40.00px;text-align:center;transform:scaleX(0.92);transform-origin:50% 0;">125/125</div>
<div class="t" style="top:375.78px;font-size:8.6px;line-height:8.6px;color:#3f352e;font-weight:normal;font-style:normal;letter-spacing:0.03px;left:355.50px;width:41.00px;text-align:center;transform:scaleX(0.92);transform-origin:50% 0;">125/125</div>
<div class="t" style="top:375.78px;font-size:8.6px;line-height:8.6px;color:#3f352e;font-weight:normal;font-style:normal;letter-spacing:0.03px;left:396.50px;width:41.00px;text-align:center;transform:scaleX(0.92);transform-origin:50% 0;">125/125</div>
<div class="t" style="top:375.78px;font-size:8.6px;line-height:8.6px;color:#3f352e;font-weight:normal;font-style:normal;letter-spacing:0.03px;left:437.50px;width:41.00px;text-align:center;transform:scaleX(0.92);transform-origin:50% 0;">200/200</div>
<div class="t" style="top:375.78px;font-size:8.6px;line-height:8.6px;color:#3f352e;font-weight:normal;font-style:normal;letter-spacing:0.03px;left:478.50px;width:41.00px;text-align:center;transform:scaleX(0.92);transform-origin:50% 0;">200/200</div>
<div class="t" style="top:375.78px;font-size:8.6px;line-height:8.6px;color:#3f352e;font-weight:normal;font-style:normal;letter-spacing:0.03px;left:519.50px;width:40.00px;text-align:center;transform:scaleX(0.92);transform-origin:50% 0;">200/200</div>
<div class="t" style="top:375.78px;font-size:8.6px;line-height:8.6px;color:#3f352e;font-weight:normal;font-style:normal;letter-spacing:0.03px;left:559.50px;width:41.00px;text-align:center;transform:scaleX(0.92);transform-origin:50% 0;">500/500</div>
<div class="t" style="top:375.78px;font-size:8.6px;line-height:8.6px;color:#3f352e;font-weight:normal;font-style:normal;letter-spacing:0.03px;left:600.50px;width:41.00px;text-align:center;transform:scaleX(0.92);transform-origin:50% 0;">630/630</div>
<div class="t" style="top:386.56px;font-size:8.6px;line-height:8.6px;color:#3f352e;font-weight:normal;font-style:normal;letter-spacing:0.03px;left:54.50px;transform:scaleX(0.878);transform-origin:0 0;">440 VDC<span class="sup">(2)</span></div>
<div class="t" style="top:386.56px;font-size:8.6px;line-height:8.6px;color:#3f352e;font-weight:normal;font-style:normal;letter-spacing:0.22px;left:179.50px;width:135.80px;text-align:center;transform:scaleX(0.878);transform-origin:50% 0;">DC-22 A / DC-22 B</div>
<div class="t" style="top:386.56px;font-size:8.6px;line-height:8.6px;color:#3f352e;font-weight:normal;font-style:normal;letter-spacing:0.03px;left:315.50px;width:40.00px;text-align:center;transform:scaleX(0.92);transform-origin:50% 0;">125/125</div>
<div class="t" style="top:386.56px;font-size:8.6px;line-height:8.6px;color:#3f352e;font-weight:normal;font-style:normal;letter-spacing:0.03px;left:355.50px;width:41.00px;text-align:center;transform:scaleX(0.92);transform-origin:50% 0;">125/125</div>
<div class="t" style="top:386.56px;font-size:8.6px;line-height:8.6px;color:#3f352e;font-weight:normal;font-style:normal;letter-spacing:0.03px;left:396.50px;width:41.00px;text-align:center;transform:scaleX(0.92);transform-origin:50% 0;">125/125</div>
<div class="t" style="top:386.56px;font-size:8.6px;line-height:8.6px;color:#3f352e;font-weight:normal;font-style:normal;letter-spacing:0.03px;left:437.50px;width:41.00px;text-align:center;transform:scaleX(0.92);transform-origin:50% 0;">200/200</div>
<div class="t" style="top:386.56px;font-size:8.6px;line-height:8.6px;color:#3f352e;font-weight:normal;font-style:normal;letter-spacing:0.03px;left:478.50px;width:41.00px;text-align:center;transform:scaleX(0.92);transform-origin:50% 0;">200/200</div>
<div class="t" style="top:386.56px;font-size:8.6px;line-height:8.6px;color:#3f352e;font-weight:normal;font-style:normal;letter-spacing:0.03px;left:519.50px;width:40.00px;text-align:center;transform:scaleX(0.92);transform-origin:50% 0;">200/200</div>
<div class="t" style="top:386.56px;font-size:8.6px;line-height:8.6px;color:#3f352e;font-weight:normal;font-style:normal;letter-spacing:0.03px;left:559.50px;width:41.00px;text-align:center;transform:scaleX(0.92);transform-origin:50% 0;">500/500</div>
<div class="t" style="top:386.56px;font-size:8.6px;line-height:8.6px;color:#3f352e;font-weight:normal;font-style:normal;letter-spacing:0.03px;left:600.50px;width:41.00px;text-align:center;transform:scaleX(0.92);transform-origin:50% 0;">630/630</div>
<div class="t" style="top:397.33px;font-size:8.6px;line-height:8.6px;color:#3f352e;font-weight:normal;font-style:normal;letter-spacing:0.03px;left:54.50px;transform:scaleX(0.878);transform-origin:0 0;">440 VDC<span class="sup">(2)</span></div>
<div class="t" style="top:397.33px;font-size:8.6px;line-height:8.6px;color:#3f352e;font-weight:normal;font-style:normal;letter-spacing:0.22px;left:179.50px;width:135.80px;text-align:center;transform:scaleX(0.878);transform-origin:50% 0;">DC-23 A / DC-23 B</div>
<div class="t" style="top:397.33px;font-size:8.6px;line-height:8.6px;color:#3f352e;font-weight:normal;font-style:normal;letter-spacing:0.03px;left:315.50px;width:40.00px;text-align:center;transform:scaleX(0.92);transform-origin:50% 0;">125/125</div>
<div class="t" style="top:397.33px;font-size:8.6px;line-height:8.6px;color:#3f352e;font-weight:normal;font-style:normal;letter-spacing:0.03px;left:355.50px;width:41.00px;text-align:center;transform:scaleX(0.92);transform-origin:50% 0;">125/125</div>
<div class="t" style="top:397.33px;font-size:8.6px;line-height:8.6px;color:#3f352e;font-weight:normal;font-style:normal;letter-spacing:0.03px;left:396.50px;width:41.00px;text-align:center;transform:scaleX(0.92);transform-origin:50% 0;">125/125</div>
<div class="t" style="top:397.33px;font-size:8.6px;line-height:8.6px;color:#3f352e;font-weight:normal;font-style:normal;letter-spacing:0.03px;left:437.50px;width:41.00px;text-align:center;transform:scaleX(0.92);transform-origin:50% 0;">200/200</div>
<div class="t" style="top:397.33px;font-size:8.6px;line-height:8.6px;color:#3f352e;font-weight:normal;font-style:normal;letter-spacing:0.03px;left:478.50px;width:41.00px;text-align:center;transform:scaleX(0.92);transform-origin:50% 0;">200/200</div>
<div class="t" style="top:397.33px;font-size:8.6px;line-height:8.6px;color:#3f352e;font-weight:normal;font-style:normal;letter-spacing:0.03px;left:519.50px;width:40.00px;text-align:center;transform:scaleX(0.92);transform-origin:50% 0;">200/200</div>
<div class="t" style="top:397.33px;font-size:8.6px;line-height:8.6px;color:#3f352e;font-weight:normal;font-style:normal;letter-spacing:0.03px;left:559.50px;width:41.00px;text-align:center;transform:scaleX(0.92);transform-origin:50% 0;">500/500</div>
<div class="t" style="top:397.33px;font-size:8.6px;line-height:8.6px;color:#3f352e;font-weight:normal;font-style:normal;letter-spacing:0.03px;left:600.50px;width:41.00px;text-align:center;transform:scaleX(0.92);transform-origin:50% 0;">630/630</div>
<div class="t b" style="top:181.14px;font-size:9.4px;line-height:9.4px;color:#0e0e18;font-weight:bold;font-style:normal;letter-spacing:0.05px;left:53.00px;transform:scaleX(0.82);transform-origin:0 0;">Rated voltage</div>
<div class="t b" style="top:181.14px;font-size:9.4px;line-height:9.4px;color:#0e0e18;font-weight:bold;font-style:normal;letter-spacing:0.05px;left:179.50px;width:135.80px;text-align:center;transform:scaleX(0.82);transform-origin:50% 0;">Utilisation category</div>
<div class="t b" style="top:181.14px;font-size:9.4px;line-height:9.4px;color:#0e0e18;font-weight:bold;font-style:normal;letter-spacing:0.0px;left:315.50px;width:40.00px;text-align:center;transform:scaleX(0.82);transform-origin:50% 0;">A/B<span class="sup">(1)</span></div>
<div class="t b" style="top:181.14px;font-size:9.4px;line-height:9.4px;color:#0e0e18;font-weight:bold;font-style:normal;letter-spacing:0.0px;left:355.50px;width:41.00px;text-align:center;transform:scaleX(0.82);transform-origin:50% 0;">A/B<span class="sup">(1)</span></div>
<div class="t b" style="top:181.14px;font-size:9.4px;line-height:9.4px;color:#0e0e18;font-weight:bold;font-style:normal;letter-spacing:0.0px;left:396.50px;width:41.00px;text-align:center;transform:scaleX(0.82);transform-origin:50% 0;">A/B<span class="sup">(1)</span></div>
<div class="t b" style="top:181.14px;font-size:9.4px;line-height:9.4px;color:#0e0e18;font-weight:bold;font-style:normal;letter-spacing:0.0px;left:437.50px;width:41.00px;text-align:center;transform:scaleX(0.82);transform-origin:50% 0;">A/B<span class="sup">(1)</span></div>
<div class="t b" style="top:181.14px;font-size:9.4px;line-height:9.4px;color:#0e0e18;font-weight:bold;font-style:normal;letter-spacing:0.0px;left:478.50px;width:41.00px;text-align:center;transform:scaleX(0.82);transform-origin:50% 0;">A/B<span class="sup">(1)</span></div>
<div class="t b" style="top:181.14px;font-size:9.4px;line-height:9.4px;color:#0e0e18;font-weight:bold;font-style:normal;letter-spacing:0.0px;left:519.50px;width:40.00px;text-align:center;transform:scaleX(0.82);transform-origin:50% 0;">A/B<span class="sup">(1)</span></div>
<div class="t b" style="top:181.14px;font-size:9.4px;line-height:9.4px;color:#0e0e18;font-weight:bold;font-style:normal;letter-spacing:0.0px;left:559.50px;width:41.00px;text-align:center;transform:scaleX(0.82);transform-origin:50% 0;">A/B<span class="sup">(1)</span></div>
<div class="t b" style="top:181.14px;font-size:9.4px;line-height:9.4px;color:#0e0e18;font-weight:bold;font-style:normal;letter-spacing:0.0px;left:600.50px;width:41.00px;text-align:center;transform:scaleX(0.82);transform-origin:50% 0;">A/B<span class="sup">(1)</span></div>
<div style="left:46.00px;top:190.80px;width:595.50px;height:1.50px;background:#f4ae6c;"></div>
<div class="t h" style="top:411.02px;font-size:9.9px;line-height:9.9px;color:#1c1e2c;font-weight:normal;font-style:normal;letter-spacing:0.1px;left:47.80px;transform:scaleX(0.955);transform-origin:0 0;white-space:nowrap;">Fuse protected short-circuit withstand as per IEC 60947-3 at 690 VAC</div>
<div style="left:46.00px;top:422.40px;width:595.50px;height:10.80px;background:#fdefdc;"></div>
<div style="left:46.00px;top:433.20px;width:595.50px;height:10.50px;background:#fde0bb;"></div>
<div style="left:46.00px;top:433.00px;width:595.50px;height:1.00px;background:#ffffff;"></div>
<div style="left:315.00px;top:422.40px;width:1.00px;height:21.30px;background:#f5b374;"></div>
<div style="left:355.00px;top:422.40px;width:1.00px;height:21.30px;background:#f5b374;"></div>
<div style="left:396.00px;top:422.40px;width:1.00px;height:21.30px;background:#f5b374;"></div>
<div style="left:437.00px;top:422.40px;width:1.00px;height:21.30px;background:#f5b374;"></div>
<div style="left:478.00px;top:422.40px;width:1.00px;height:21.30px;background:#f5b374;"></div>
<div style="left:519.00px;top:422.40px;width:1.00px;height:21.30px;background:#f5b374;"></div>
<div style="left:559.00px;top:422.40px;width:1.00px;height:21.30px;background:#f5b374;"></div>
<div style="left:600.00px;top:422.40px;width:1.00px;height:21.30px;background:#f5b374;"></div>
<div class="t" style="top:423.52px;font-size:8.6px;line-height:8.6px;color:#3f352e;font-weight:normal;font-style:normal;letter-spacing:0.03px;left:54.00px;transform:scaleX(0.878);transform-origin:0 0;">Prospective short-circuit current (kA rms)</div>
<div class="t" style="top:423.52px;font-size:8.6px;line-height:8.6px;color:#3f352e;font-weight:normal;font-style:normal;letter-spacing:0.03px;left:315.50px;width:40.00px;text-align:center;transform:scaleX(0.92);transform-origin:50% 0;">100<span class="sup">(3)</span></div>
<div class="t" style="top:423.52px;font-size:8.6px;line-height:8.6px;color:#3f352e;font-weight:normal;font-style:normal;letter-spacing:0.03px;left:355.50px;width:41.00px;text-align:center;transform:scaleX(0.92);transform-origin:50% 0;">100<span class="sup">(3)</span></div>
<div class="t" style="top:423.52px;font-size:8.6px;line-height:8.6px;color:#3f352e;font-weight:normal;font-style:normal;letter-spacing:0.03px;left:396.50px;width:41.00px;text-align:center;transform:scaleX(0.92);transform-origin:50% 0;">50<span class="sup">(3)</span></div>
<div class="t" style="top:423.52px;font-size:8.6px;line-height:8.6px;color:#3f352e;font-weight:normal;font-style:normal;letter-spacing:0.03px;left:437.50px;width:41.00px;text-align:center;transform:scaleX(0.92);transform-origin:50% 0;">50</div>
<div class="t" style="top:423.52px;font-size:8.6px;line-height:8.6px;color:#3f352e;font-weight:normal;font-style:normal;letter-spacing:0.03px;left:478.50px;width:41.00px;text-align:center;transform:scaleX(0.92);transform-origin:50% 0;">50</div>
<div class="t" style="top:423.52px;font-size:8.6px;line-height:8.6px;color:#3f352e;font-weight:normal;font-style:normal;letter-spacing:0.03px;left:519.50px;width:40.00px;text-align:center;transform:scaleX(0.92);transform-origin:50% 0;">50</div>
<div class="t" style="top:423.52px;font-size:8.6px;line-height:8.6px;color:#3f352e;font-weight:normal;font-style:normal;letter-spacing:0.03px;left:559.50px;width:41.00px;text-align:center;transform:scaleX(0.92);transform-origin:50% 0;">50</div>
<div class="t" style="top:423.52px;font-size:8.6px;line-height:8.6px;color:#3f352e;font-weight:normal;font-style:normal;letter-spacing:0.03px;left:600.50px;width:41.00px;text-align:center;transform:scaleX(0.92);transform-origin:50% 0;">50</div>
<div class="t" style="top:434.17px;font-size:8.6px;line-height:8.6px;color:#3f352e;font-weight:normal;font-style:normal;letter-spacing:0.03px;left:54.00px;transform:scaleX(0.878);transform-origin:0 0;">Associated fuse rating (A)</div>
<div class="t" style="top:434.17px;font-size:8.6px;line-height:8.6px;color:#3f352e;font-weight:normal;font-style:normal;letter-spacing:0.03px;left:315.50px;width:40.00px;text-align:center;transform:scaleX(0.92);transform-origin:50% 0;">125</div>
<div class="t" style="top:434.17px;font-size:8.6px;line-height:8.6px;color:#3f352e;font-weight:normal;font-style:normal;letter-spacing:0.03px;left:355.50px;width:41.00px;text-align:center;transform:scaleX(0.92);transform-origin:50% 0;">160</div>
<div class="t" style="top:434.17px;font-size:8.6px;line-height:8.6px;color:#3f352e;font-weight:normal;font-style:normal;letter-spacing:0.03px;left:396.50px;width:41.00px;text-align:center;transform:scaleX(0.92);transform-origin:50% 0;">200</div>
<div class="t" style="top:434.17px;font-size:8.6px;line-height:8.6px;color:#3f352e;font-weight:normal;font-style:normal;letter-spacing:0.03px;left:437.50px;width:41.00px;text-align:center;transform:scaleX(0.92);transform-origin:50% 0;">250</div>
<div class="t" style="top:434.17px;font-size:8.6px;line-height:8.6px;color:#3f352e;font-weight:normal;font-style:normal;letter-spacing:0.03px;left:478.50px;width:41.00px;text-align:center;transform:scaleX(0.92);transform-origin:50% 0;">315</div>
<div class="t" style="top:434.17px;font-size:8.6px;line-height:8.6px;color:#3f352e;font-weight:normal;font-style:normal;letter-spacing:0.03px;left:519.50px;width:40.00px;text-align:center;transform:scaleX(0.92);transform-origin:50% 0;">400</div>
<div class="t" style="top:434.17px;font-size:8.6px;line-height:8.6px;color:#3f352e;font-weight:normal;font-style:normal;letter-spacing:0.03px;left:559.50px;width:41.00px;text-align:center;transform:scaleX(0.92);transform-origin:50% 0;">500</div>
<div class="t" style="top:434.17px;font-size:8.6px;line-height:8.6px;color:#3f352e;font-weight:normal;font-style:normal;letter-spacing:0.03px;left:600.50px;width:41.00px;text-align:center;transform:scaleX(0.92);transform-origin:50% 0;">630</div>
<div class="t h" style="top:448.92px;font-size:9.9px;line-height:9.9px;color:#1c1e2c;font-weight:normal;font-style:normal;letter-spacing:0.1px;left:47.80px;transform:scaleX(0.955);transform-origin:0 0;white-space:nowrap;">Circuit breaker protected short-circuit withstand with any circuit breaker that ensures tripping in less than 0.3s<span class="sup">(4)</span></div>
<div style="left:46.00px;top:460.30px;width:595.50px;height:10.10px;background:#fde0bb;"></div>
<div style="left:315.00px;top:460.30px;width:1.00px;height:10.10px;background:#f5b374;"></div>
<div style="left:355.00px;top:460.30px;width:1.00px;height:10.10px;background:#f5b374;"></div>
<div style="left:396.00px;top:460.30px;width:1.00px;height:10.10px;background:#f5b374;"></div>
<div style="left:437.00px;top:460.30px;width:1.00px;height:10.10px;background:#f5b374;"></div>
<div style="left:478.00px;top:460.30px;width:1.00px;height:10.10px;background:#f5b374;"></div>
<div style="left:519.00px;top:460.30px;width:1.00px;height:10.10px;background:#f5b374;"></div>
<div style="left:559.00px;top:460.30px;width:1.00px;height:10.10px;background:#f5b374;"></div>
<div style="left:600.00px;top:460.30px;width:1.00px;height:10.10px;background:#f5b374;"></div>
<div class="t" style="top:461.07px;font-size:8.6px;line-height:8.6px;color:#3f352e;font-weight:normal;font-style:normal;letter-spacing:0.03px;left:54.00px;transform:scaleX(0.878);transform-origin:0 0;">Rated short-time withstand current 0.3s I<span class="sub">cw</span> (kA rms)</div>
<div class="t" style="top:461.07px;font-size:8.6px;line-height:8.6px;color:#3f352e;font-weight:normal;font-style:normal;letter-spacing:0.03px;left:315.50px;width:40.00px;text-align:center;transform:scaleX(0.92);transform-origin:50% 0;">12<span class="sup">(3)</span></div>
<div class="t" style="top:461.07px;font-size:8.6px;line-height:8.6px;color:#3f352e;font-weight:normal;font-style:normal;letter-spacing:0.03px;left:355.50px;width:41.00px;text-align:center;transform:scaleX(0.92);transform-origin:50% 0;">12<span class="sup">(3)</span></div>
<div class="t" style="top:461.07px;font-size:8.6px;line-height:8.6px;color:#3f352e;font-weight:normal;font-style:normal;letter-spacing:0.03px;left:396.50px;width:41.00px;text-align:center;transform:scaleX(0.92);transform-origin:50% 0;">12<span class="sup">(3)</span></div>
<div class="t" style="top:461.07px;font-size:8.6px;line-height:8.6px;color:#3f352e;font-weight:normal;font-style:normal;letter-spacing:0.03px;left:437.50px;width:41.00px;text-align:center;transform:scaleX(0.92);transform-origin:50% 0;">15</div>
<div class="t" style="top:461.07px;font-size:8.6px;line-height:8.6px;color:#3f352e;font-weight:normal;font-style:normal;letter-spacing:0.03px;left:478.50px;width:41.00px;text-align:center;transform:scaleX(0.92);transform-origin:50% 0;">15</div>
<div class="t" style="top:461.07px;font-size:8.6px;line-height:8.6px;color:#3f352e;font-weight:normal;font-style:normal;letter-spacing:0.03px;left:519.50px;width:40.00px;text-align:center;transform:scaleX(0.92);transform-origin:50% 0;">15</div>
<div class="t" style="top:461.07px;font-size:8.6px;line-height:8.6px;color:#3f352e;font-weight:normal;font-style:normal;letter-spacing:0.03px;left:559.50px;width:41.00px;text-align:center;transform:scaleX(0.92);transform-origin:50% 0;">17</div>
<div class="t" style="top:461.07px;font-size:8.6px;line-height:8.6px;color:#3f352e;font-weight:normal;font-style:normal;letter-spacing:0.03px;left:600.50px;width:41.00px;text-align:center;transform:scaleX(0.92);transform-origin:50% 0;">17</div>
<div class="t h" style="top:475.22px;font-size:9.9px;line-height:9.9px;color:#1c1e2c;font-weight:normal;font-style:normal;letter-spacing:0.1px;left:47.80px;transform:scaleX(0.955);transform-origin:0 0;white-space:nowrap;">Rated short-circuit withstand without protection</div>
<div style="left:46.00px;top:487.00px;width:595.50px;height:19.50px;background:#fde0bb;"></div>
<div style="left:46.00px;top:506.50px;width:595.50px;height:20.80px;background:#fdefdc;"></div>
<div style="left:46.00px;top:506.00px;width:595.50px;height:1.00px;background:#ffffff;"></div>
<div style="left:46.00px;top:527.30px;width:595.50px;height:10.00px;background:#fde0bb;"></div>
<div style="left:46.00px;top:527.00px;width:595.50px;height:1.00px;background:#ffffff;"></div>
<div style="left:315.00px;top:487.00px;width:1.00px;height:50.30px;background:#f5b374;"></div>
<div style="left:355.00px;top:487.00px;width:1.00px;height:50.30px;background:#f5b374;"></div>
<div style="left:396.00px;top:487.00px;width:1.00px;height:50.30px;background:#f5b374;"></div>
<div style="left:437.00px;top:487.00px;width:1.00px;height:50.30px;background:#f5b374;"></div>
<div style="left:478.00px;top:487.00px;width:1.00px;height:50.30px;background:#f5b374;"></div>
<div style="left:519.00px;top:487.00px;width:1.00px;height:50.30px;background:#f5b374;"></div>
<div style="left:559.00px;top:487.00px;width:1.00px;height:50.30px;background:#f5b374;"></div>
<div style="left:600.00px;top:487.00px;width:1.00px;height:50.30px;background:#f5b374;"></div>
<div class="t" style="top:487.87px;font-size:8.6px;line-height:8.6px;color:#3f352e;font-weight:normal;font-style:normal;letter-spacing:0.03px;left:54.00px;transform:scaleX(0.878);transform-origin:0 0;white-space:nowrap;line-height:9.2px;">Rated short-time withstand current 60ms I<span class="sub">cw</span> (kA rms) as per IEC 60947-6-1<br>at 415 VAC</div>
<div class="t" style="top:492.47px;font-size:8.6px;line-height:8.6px;color:#3f352e;font-weight:normal;font-style:normal;letter-spacing:0.03px;left:437.50px;width:41.00px;text-align:center;transform:scaleX(0.92);transform-origin:50% 0;">10<span class="sup">(3)</span></div>
<div class="t" style="top:492.47px;font-size:8.6px;line-height:8.6px;color:#3f352e;font-weight:normal;font-style:normal;letter-spacing:0.03px;left:478.50px;width:41.00px;text-align:center;transform:scaleX(0.92);transform-origin:50% 0;">10<span class="sup">(3)</span></div>
<div class="t" style="top:492.47px;font-size:8.6px;line-height:8.6px;color:#3f352e;font-weight:normal;font-style:normal;letter-spacing:0.03px;left:519.50px;width:40.00px;text-align:center;transform:scaleX(0.92);transform-origin:50% 0;">10<span class="sup">(3)</span></div>
<div class="t" style="top:492.47px;font-size:8.6px;line-height:8.6px;color:#3f352e;font-weight:normal;font-style:normal;letter-spacing:0.03px;left:559.50px;width:41.00px;text-align:center;transform:scaleX(0.92);transform-origin:50% 0;">10</div>
<div class="t" style="top:492.47px;font-size:8.6px;line-height:8.6px;color:#3f352e;font-weight:normal;font-style:normal;letter-spacing:0.03px;left:600.50px;width:41.00px;text-align:center;transform:scaleX(0.92);transform-origin:50% 0;">12.6</div>
<div class="t" style="top:508.02px;font-size:8.6px;line-height:8.6px;color:#3f352e;font-weight:normal;font-style:normal;letter-spacing:0.03px;left:54.00px;transform:scaleX(0.878);transform-origin:0 0;white-space:nowrap;line-height:9.2px;">Rated short-time withstand current 1ms I<span class="sub">cw</span> (kA rms) as per IEC 60947-3 at<br>690 VAC</div>
<div class="t" style="top:512.62px;font-size:8.6px;line-height:8.6px;color:#3f352e;font-weight:normal;font-style:normal;letter-spacing:0.03px;left:315.50px;width:40.00px;text-align:center;transform:scaleX(0.92);transform-origin:50% 0;">7<span class="sup">(3)</span></div>
<div class="t" style="top:512.62px;font-size:8.6px;line-height:8.6px;color:#3f352e;font-weight:normal;font-style:normal;letter-spacing:0.03px;left:355.50px;width:41.00px;text-align:center;transform:scaleX(0.92);transform-origin:50% 0;">7<span class="sup">(3)</span></div>
<div class="t" style="top:512.62px;font-size:8.6px;line-height:8.6px;color:#3f352e;font-weight:normal;font-style:normal;letter-spacing:0.03px;left:396.50px;width:41.00px;text-align:center;transform:scaleX(0.92);transform-origin:50% 0;">7<span class="sup">(3)</span></div>
<div class="t" style="top:512.62px;font-size:8.6px;line-height:8.6px;color:#3f352e;font-weight:normal;font-style:normal;letter-spacing:0.03px;left:437.50px;width:41.00px;text-align:center;transform:scaleX(0.92);transform-origin:50% 0;">8</div>
<div class="t" style="top:512.62px;font-size:8.6px;line-height:8.6px;color:#3f352e;font-weight:normal;font-style:normal;letter-spacing:0.03px;left:478.50px;width:41.00px;text-align:center;transform:scaleX(0.92);transform-origin:50% 0;">8</div>
<div class="t" style="top:512.62px;font-size:8.6px;line-height:8.6px;color:#3f352e;font-weight:normal;font-style:normal;letter-spacing:0.03px;left:519.50px;width:40.00px;text-align:center;transform:scaleX(0.92);transform-origin:50% 0;">8</div>
<div class="t" style="top:512.62px;font-size:8.6px;line-height:8.6px;color:#3f352e;font-weight:normal;font-style:normal;letter-spacing:0.03px;left:559.50px;width:41.00px;text-align:center;transform:scaleX(0.92);transform-origin:50% 0;">10</div>
<div class="t" style="top:512.62px;font-size:8.6px;line-height:8.6px;color:#3f352e;font-weight:normal;font-style:normal;letter-spacing:0.03px;left:600.50px;width:41.00px;text-align:center;transform:scaleX(0.92);transform-origin:50% 0;">10</div>
<div class="t" style="top:528.02px;font-size:8.6px;line-height:8.6px;color:#3f352e;font-weight:normal;font-style:normal;letter-spacing:0.03px;left:54.00px;transform:scaleX(0.878);transform-origin:0 0;">Rated peak withstand current (kA peak) as per IEC 60947-3 at 690 VAC</div>
<div class="t" style="top:528.02px;font-size:8.6px;line-height:8.6px;color:#3f352e;font-weight:normal;font-style:normal;letter-spacing:0.03px;left:315.50px;width:40.00px;text-align:center;transform:scaleX(0.92);transform-origin:50% 0;">20</div>
<div class="t" style="top:528.02px;font-size:8.6px;line-height:8.6px;color:#3f352e;font-weight:normal;font-style:normal;letter-spacing:0.03px;left:355.50px;width:41.00px;text-align:center;transform:scaleX(0.92);transform-origin:50% 0;">20</div>
<div class="t" style="top:528.02px;font-size:8.6px;line-height:8.6px;color:#3f352e;font-weight:normal;font-style:normal;letter-spacing:0.03px;left:396.50px;width:41.00px;text-align:center;transform:scaleX(0.92);transform-origin:50% 0;">20</div>
<div class="t" style="top:528.02px;font-size:8.6px;line-height:8.6px;color:#3f352e;font-weight:normal;font-style:normal;letter-spacing:0.03px;left:437.50px;width:41.00px;text-align:center;transform:scaleX(0.92);transform-origin:50% 0;">30</div>
<div class="t" style="top:528.02px;font-size:8.6px;line-height:8.6px;color:#3f352e;font-weight:normal;font-style:normal;letter-spacing:0.03px;left:478.50px;width:41.00px;text-align:center;transform:scaleX(0.92);transform-origin:50% 0;">30</div>
<div class="t" style="top:528.02px;font-size:8.6px;line-height:8.6px;color:#3f352e;font-weight:normal;font-style:normal;letter-spacing:0.03px;left:519.50px;width:40.00px;text-align:center;transform:scaleX(0.92);transform-origin:50% 0;">30</div>
<div class="t" style="top:528.02px;font-size:8.6px;line-height:8.6px;color:#3f352e;font-weight:normal;font-style:normal;letter-spacing:0.03px;left:559.50px;width:41.00px;text-align:center;transform:scaleX(0.92);transform-origin:50% 0;">45</div>
<div class="t" style="top:528.02px;font-size:8.6px;line-height:8.6px;color:#3f352e;font-weight:normal;font-style:normal;letter-spacing:0.03px;left:600.50px;width:41.00px;text-align:center;transform:scaleX(0.92);transform-origin:50% 0;">45</div>
<div class="t h" style="top:542.12px;font-size:9.9px;line-height:9.9px;color:#1c1e2c;font-weight:normal;font-style:normal;letter-spacing:0.1px;left:47.80px;transform:scaleX(0.955);transform-origin:0 0;white-space:nowrap;">Connection</div>
<div style="left:46.00px;top:554.40px;width:595.50px;height:10.60px;background:#fde0bb;"></div>
<div style="left:46.00px;top:565.00px;width:595.50px;height:10.80px;background:#fdefdc;"></div>
<div style="left:46.00px;top:564.00px;width:595.50px;height:1.00px;background:#ffffff;"></div>
<div style="left:46.00px;top:575.80px;width:595.50px;height:10.80px;background:#fde0bb;"></div>
<div style="left:46.00px;top:575.00px;width:595.50px;height:1.00px;background:#ffffff;"></div>
<div style="left:46.00px;top:586.60px;width:595.50px;height:10.60px;background:#fdefdc;"></div>
<div style="left:46.00px;top:586.00px;width:595.50px;height:1.00px;background:#ffffff;"></div>
<div style="left:46.00px;top:597.20px;width:595.50px;height:10.10px;background:#fde0bb;"></div>
<div style="left:46.00px;top:597.00px;width:595.50px;height:1.00px;background:#ffffff;"></div>
<div style="left:315.00px;top:554.40px;width:1.00px;height:52.90px;background:#f5b374;"></div>
<div style="left:355.00px;top:554.40px;width:1.00px;height:52.90px;background:#f5b374;"></div>
<div style="left:396.00px;top:554.40px;width:1.00px;height:52.90px;background:#f5b374;"></div>
<div style="left:437.00px;top:554.40px;width:1.00px;height:52.90px;background:#f5b374;"></div>
<div style="left:478.00px;top:554.40px;width:1.00px;height:52.90px;background:#f5b374;"></div>
<div style="left:519.00px;top:554.40px;width:1.00px;height:52.90px;background:#f5b374;"></div>
<div style="left:559.00px;top:554.40px;width:1.00px;height:52.90px;background:#f5b374;"></div>
<div style="left:600.00px;top:554.40px;width:1.00px;height:52.90px;background:#f5b374;"></div>
<div class="t" style="top:555.42px;font-size:8.6px;line-height:8.6px;color:#3f352e;font-weight:normal;font-style:normal;letter-spacing:0.03px;left:54.00px;transform:scaleX(0.878);transform-origin:0 0;">Maximum Cu cable cross-section (mm²)</div>
<div class="t" style="top:555.42px;font-size:8.6px;line-height:8.6px;color:#3f352e;font-weight:normal;font-style:normal;letter-spacing:0.03px;left:315.50px;width:40.00px;text-align:center;transform:scaleX(0.92);transform-origin:50% 0;">35</div>
<div class="t" style="top:555.42px;font-size:8.6px;line-height:8.6px;color:#3f352e;font-weight:normal;font-style:normal;letter-spacing:0.03px;left:355.50px;width:41.00px;text-align:center;transform:scaleX(0.92);transform-origin:50% 0;">50</div>
<div class="t" style="top:555.42px;font-size:8.6px;line-height:8.6px;color:#3f352e;font-weight:normal;font-style:normal;letter-spacing:0.03px;left:396.50px;width:41.00px;text-align:center;transform:scaleX(0.92);transform-origin:50% 0;">70</div>
<div class="t" style="top:555.42px;font-size:8.6px;line-height:8.6px;color:#3f352e;font-weight:normal;font-style:normal;letter-spacing:0.03px;left:437.50px;width:41.00px;text-align:center;transform:scaleX(0.92);transform-origin:50% 0;">95</div>
<div class="t" style="top:555.42px;font-size:8.6px;line-height:8.6px;color:#3f352e;font-weight:normal;font-style:normal;letter-spacing:0.03px;left:478.50px;width:41.00px;text-align:center;transform:scaleX(0.92);transform-origin:50% 0;">150</div>
<div class="t" style="top:555.42px;font-size:8.6px;line-height:8.6px;color:#3f352e;font-weight:normal;font-style:normal;letter-spacing:0.03px;left:519.50px;width:40.00px;text-align:center;transform:scaleX(0.92);transform-origin:50% 0;">185</div>
<div class="t" style="top:555.42px;font-size:8.6px;line-height:8.6px;color:#3f352e;font-weight:normal;font-style:normal;letter-spacing:0.03px;left:559.50px;width:41.00px;text-align:center;transform:scaleX(0.92);transform-origin:50% 0;">240</div>
<div class="t" style="top:555.42px;font-size:8.6px;line-height:8.6px;color:#3f352e;font-weight:normal;font-style:normal;letter-spacing:0.03px;left:600.50px;width:41.00px;text-align:center;transform:scaleX(0.92);transform-origin:50% 0;">2 x 150</div>
<div class="t" style="top:566.12px;font-size:8.6px;line-height:8.6px;color:#3f352e;font-weight:normal;font-style:normal;letter-spacing:0.03px;left:54.00px;transform:scaleX(0.878);transform-origin:0 0;">Minimum Cu busbar cross-section (mm²)</div>
<div class="t" style="top:566.12px;font-size:8.6px;line-height:8.6px;color:#3f352e;font-weight:normal;font-style:normal;letter-spacing:0.03px;left:600.50px;width:41.00px;text-align:center;transform:scaleX(0.92);transform-origin:50% 0;">2 x 30 x 5</div>
<div class="t" style="top:576.92px;font-size:8.6px;line-height:8.6px;color:#3f352e;font-weight:normal;font-style:normal;letter-spacing:0.03px;left:54.00px;transform:scaleX(0.878);transform-origin:0 0;">Maximum Cu cable cross-section (mm²)</div>
<div class="t" style="top:576.92px;font-size:8.6px;line-height:8.6px;color:#3f352e;font-weight:normal;font-style:normal;letter-spacing:0.03px;left:315.50px;width:40.00px;text-align:center;transform:scaleX(0.92);transform-origin:50% 0;">50</div>
<div class="t" style="top:576.92px;font-size:8.6px;line-height:8.6px;color:#3f352e;font-weight:normal;font-style:normal;letter-spacing:0.03px;left:355.50px;width:41.00px;text-align:center;transform:scaleX(0.92);transform-origin:50% 0;">95</div>
<div class="t" style="top:576.92px;font-size:8.6px;line-height:8.6px;color:#3f352e;font-weight:normal;font-style:normal;letter-spacing:0.03px;left:396.50px;width:41.00px;text-align:center;transform:scaleX(0.92);transform-origin:50% 0;">120</div>
<div class="t" style="top:576.92px;font-size:8.6px;line-height:8.6px;color:#3f352e;font-weight:normal;font-style:normal;letter-spacing:0.03px;left:437.50px;width:41.00px;text-align:center;transform:scaleX(0.92);transform-origin:50% 0;">150</div>
<div class="t" style="top:576.92px;font-size:8.6px;line-height:8.6px;color:#3f352e;font-weight:normal;font-style:normal;letter-spacing:0.03px;left:478.50px;width:41.00px;text-align:center;transform:scaleX(0.92);transform-origin:50% 0;">240</div>
<div class="t" style="top:576.92px;font-size:8.6px;line-height:8.6px;color:#3f352e;font-weight:normal;font-style:normal;letter-spacing:0.03px;left:519.50px;width:40.00px;text-align:center;transform:scaleX(0.92);transform-origin:50% 0;">240</div>
<div class="t" style="top:576.92px;font-size:8.6px;line-height:8.6px;color:#3f352e;font-weight:normal;font-style:normal;letter-spacing:0.03px;left:559.50px;width:41.00px;text-align:center;transform:scaleX(0.92);transform-origin:50% 0;">2 x 185</div>
<div class="t" style="top:576.92px;font-size:8.6px;line-height:8.6px;color:#3f352e;font-weight:normal;font-style:normal;letter-spacing:0.03px;left:600.50px;width:41.00px;text-align:center;transform:scaleX(0.92);transform-origin:50% 0;">2 x 300</div>
<div class="t" style="top:587.62px;font-size:8.6px;line-height:8.6px;color:#3f352e;font-weight:normal;font-style:normal;letter-spacing:0.03px;left:54.00px;transform:scaleX(0.878);transform-origin:0 0;">Maximum Cu busbar width (mm)</div>
<div class="t" style="top:587.62px;font-size:8.6px;line-height:8.6px;color:#3f352e;font-weight:normal;font-style:normal;letter-spacing:0.03px;left:315.50px;width:40.00px;text-align:center;transform:scaleX(0.92);transform-origin:50% 0;">25</div>
<div class="t" style="top:587.62px;font-size:8.6px;line-height:8.6px;color:#3f352e;font-weight:normal;font-style:normal;letter-spacing:0.03px;left:355.50px;width:41.00px;text-align:center;transform:scaleX(0.92);transform-origin:50% 0;">25</div>
<div class="t" style="top:587.62px;font-size:8.6px;line-height:8.6px;color:#3f352e;font-weight:normal;font-style:normal;letter-spacing:0.03px;left:396.50px;width:41.00px;text-align:center;transform:scaleX(0.92);transform-origin:50% 0;">25</div>
<div class="t" style="top:587.62px;font-size:8.6px;line-height:8.6px;color:#3f352e;font-weight:normal;font-style:normal;letter-spacing:0.03px;left:437.50px;width:41.00px;text-align:center;transform:scaleX(0.92);transform-origin:50% 0;">32</div>
<div class="t" style="top:587.62px;font-size:8.6px;line-height:8.6px;color:#3f352e;font-weight:normal;font-style:normal;letter-spacing:0.03px;left:478.50px;width:41.00px;text-align:center;transform:scaleX(0.92);transform-origin:50% 0;">32</div>
<div class="t" style="top:587.62px;font-size:8.6px;line-height:8.6px;color:#3f352e;font-weight:normal;font-style:normal;letter-spacing:0.03px;left:519.50px;width:40.00px;text-align:center;transform:scaleX(0.92);transform-origin:50% 0;">32</div>
<div class="t" style="top:587.62px;font-size:8.6px;line-height:8.6px;color:#3f352e;font-weight:normal;font-style:normal;letter-spacing:0.03px;left:559.50px;width:41.00px;text-align:center;transform:scaleX(0.92);transform-origin:50% 0;">50</div>
<div class="t" style="top:587.62px;font-size:8.6px;line-height:8.6px;color:#3f352e;font-weight:normal;font-style:normal;letter-spacing:0.03px;left:600.50px;width:41.00px;text-align:center;transform:scaleX(0.92);transform-origin:50% 0;">50</div>
<div class="t" style="top:597.97px;font-size:8.6px;line-height:8.6px;color:#3f352e;font-weight:normal;font-style:normal;letter-spacing:0.03px;left:54.00px;transform:scaleX(0.878);transform-origin:0 0;">Tightening torque mini / maxi (Nm)</div>
<div class="t" style="top:597.97px;font-size:8.6px;line-height:8.6px;color:#3f352e;font-weight:normal;font-style:normal;letter-spacing:0.03px;left:315.50px;width:40.00px;text-align:center;transform:scaleX(0.92);transform-origin:50% 0;">9/13</div>
<div class="t" style="top:597.97px;font-size:8.6px;line-height:8.6px;color:#3f352e;font-weight:normal;font-style:normal;letter-spacing:0.03px;left:355.50px;width:41.00px;text-align:center;transform:scaleX(0.92);transform-origin:50% 0;">9/13</div>
<div class="t" style="top:597.97px;font-size:8.6px;line-height:8.6px;color:#3f352e;font-weight:normal;font-style:normal;letter-spacing:0.03px;left:396.50px;width:41.00px;text-align:center;transform:scaleX(0.92);transform-origin:50% 0;">9/13</div>
<div class="t" style="top:597.97px;font-size:8.6px;line-height:8.6px;color:#3f352e;font-weight:normal;font-style:normal;letter-spacing:0.03px;left:437.50px;width:41.00px;text-align:center;transform:scaleX(0.92);transform-origin:50% 0;">20/26</div>
<div class="t" style="top:597.97px;font-size:8.6px;line-height:8.6px;color:#3f352e;font-weight:normal;font-style:normal;letter-spacing:0.03px;left:478.50px;width:41.00px;text-align:center;transform:scaleX(0.92);transform-origin:50% 0;">20/26</div>
<div class="t" style="top:597.97px;font-size:8.6px;line-height:8.6px;color:#3f352e;font-weight:normal;font-style:normal;letter-spacing:0.03px;left:519.50px;width:40.00px;text-align:center;transform:scaleX(0.92);transform-origin:50% 0;">20/26</div>
<div class="t" style="top:597.97px;font-size:8.6px;line-height:8.6px;color:#3f352e;font-weight:normal;font-style:normal;letter-spacing:0.03px;left:559.50px;width:41.00px;text-align:center;transform:scaleX(0.92);transform-origin:50% 0;">20/26</div>
<div class="t" style="top:597.97px;font-size:8.6px;line-height:8.6px;color:#3f352e;font-weight:normal;font-style:normal;letter-spacing:0.03px;left:600.50px;width:41.00px;text-align:center;transform:scaleX(0.92);transform-origin:50% 0;">20/26</div>
<div class="t h" style="top:612.12px;font-size:9.9px;line-height:9.9px;color:#1c1e2c;font-weight:normal;font-style:normal;letter-spacing:0.1px;left:47.80px;transform:scaleX(0.955);transform-origin:0 0;white-space:nowrap;">Switching time (Standard setting)</div>
<div style="left:46.00px;top:623.90px;width:595.50px;height:10.40px;background:#fde0bb;"></div>
<div style="left:46.00px;top:634.30px;width:595.50px;height:10.50px;background:#fdefdc;"></div>
<div style="left:46.00px;top:634.00px;width:595.50px;height:1.00px;background:#ffffff;"></div>
<div style="left:46.00px;top:644.80px;width:595.50px;height:10.40px;background:#fde0bb;"></div>
<div style="left:46.00px;top:644.00px;width:595.50px;height:1.00px;background:#ffffff;"></div>
<div style="left:315.00px;top:623.90px;width:1.00px;height:31.30px;background:#f5b374;"></div>
<div style="left:355.00px;top:623.90px;width:1.00px;height:31.30px;background:#f5b374;"></div>
<div style="left:396.00px;top:623.90px;width:1.00px;height:31.30px;background:#f5b374;"></div>
<div style="left:437.00px;top:623.90px;width:1.00px;height:31.30px;background:#f5b374;"></div>
<div style="left:478.00px;top:623.90px;width:1.00px;height:31.30px;background:#f5b374;"></div>
<div style="left:519.00px;top:623.90px;width:1.00px;height:31.30px;background:#f5b374;"></div>
<div style="left:559.00px;top:623.90px;width:1.00px;height:31.30px;background:#f5b374;"></div>
<div style="left:600.00px;top:623.90px;width:1.00px;height:31.30px;background:#f5b374;"></div>
<div class="t" style="top:624.82px;font-size:8.6px;line-height:8.6px;color:#3f352e;font-weight:normal;font-style:normal;letter-spacing:0.03px;left:54.00px;transform:scaleX(0.878);transform-origin:0 0;">I - II or II - I (s)</div>
<div class="t" style="top:624.82px;font-size:8.6px;line-height:8.6px;color:#3f352e;font-weight:normal;font-style:normal;letter-spacing:0.03px;left:315.50px;width:40.00px;text-align:center;transform:scaleX(0.92);transform-origin:50% 0;">0.75</div>
<div class="t" style="top:624.82px;font-size:8.6px;line-height:8.6px;color:#3f352e;font-weight:normal;font-style:normal;letter-spacing:0.03px;left:355.50px;width:41.00px;text-align:center;transform:scaleX(0.92);transform-origin:50% 0;">0.75</div>
<div class="t" style="top:624.82px;font-size:8.6px;line-height:8.6px;color:#3f352e;font-weight:normal;font-style:normal;letter-spacing:0.03px;left:396.50px;width:41.00px;text-align:center;transform:scaleX(0.92);transform-origin:50% 0;">0.75</div>
<div class="t" style="top:624.82px;font-size:8.6px;line-height:8.6px;color:#3f352e;font-weight:normal;font-style:normal;letter-spacing:0.03px;left:437.50px;width:41.00px;text-align:center;transform:scaleX(0.92);transform-origin:50% 0;">1.3</div>
<div class="t" style="top:624.82px;font-size:8.6px;line-height:8.6px;color:#3f352e;font-weight:normal;font-style:normal;letter-spacing:0.03px;left:478.50px;width:41.00px;text-align:center;transform:scaleX(0.92);transform-origin:50% 0;">1.3</div>
<div class="t" style="top:624.82px;font-size:8.6px;line-height:8.6px;color:#3f352e;font-weight:normal;font-style:normal;letter-spacing:0.03px;left:519.50px;width:40.00px;text-align:center;transform:scaleX(0.92);transform-origin:50% 0;">1.3</div>
<div class="t" style="top:624.82px;font-size:8.6px;line-height:8.6px;color:#3f352e;font-weight:normal;font-style:normal;letter-spacing:0.03px;left:559.50px;width:41.00px;text-align:center;transform:scaleX(0.92);transform-origin:50% 0;">1.3</div>
<div class="t" style="top:624.82px;font-size:8.6px;line-height:8.6px;color:#3f352e;font-weight:normal;font-style:normal;letter-spacing:0.03px;left:600.50px;width:41.00px;text-align:center;transform:scaleX(0.92);transform-origin:50% 0;">1.3</div>
<div class="t" style="top:635.27px;font-size:8.6px;line-height:8.6px;color:#3f352e;font-weight:normal;font-style:normal;letter-spacing:0.03px;left:54.00px;transform:scaleX(0.878);transform-origin:0 0;">I-0 or 0-II (s)</div>
<div class="t" style="top:635.27px;font-size:8.6px;line-height:8.6px;color:#3f352e;font-weight:normal;font-style:normal;letter-spacing:0.03px;left:315.50px;width:40.00px;text-align:center;transform:scaleX(0.92);transform-origin:50% 0;">0.45</div>
<div class="t" style="top:635.27px;font-size:8.6px;line-height:8.6px;color:#3f352e;font-weight:normal;font-style:normal;letter-spacing:0.03px;left:355.50px;width:41.00px;text-align:center;transform:scaleX(0.92);transform-origin:50% 0;">0.45</div>
<div class="t" style="top:635.27px;font-size:8.6px;line-height:8.6px;color:#3f352e;font-weight:normal;font-style:normal;letter-spacing:0.03px;left:396.50px;width:41.00px;text-align:center;transform:scaleX(0.92);transform-origin:50% 0;">0.45</div>
<div class="t" style="top:635.27px;font-size:8.6px;line-height:8.6px;color:#3f352e;font-weight:normal;font-style:normal;letter-spacing:0.03px;left:437.50px;width:41.00px;text-align:center;transform:scaleX(0.92);transform-origin:50% 0;">0.85</div>
<div class="t" style="top:635.27px;font-size:8.6px;line-height:8.6px;color:#3f352e;font-weight:normal;font-style:normal;letter-spacing:0.03px;left:478.50px;width:41.00px;text-align:center;transform:scaleX(0.92);transform-origin:50% 0;">0.85</div>
<div class="t" style="top:635.27px;font-size:8.6px;line-height:8.6px;color:#3f352e;font-weight:normal;font-style:normal;letter-spacing:0.03px;left:519.50px;width:40.00px;text-align:center;transform:scaleX(0.92);transform-origin:50% 0;">0.85</div>
<div class="t" style="top:635.27px;font-size:8.6px;line-height:8.6px;color:#3f352e;font-weight:normal;font-style:normal;letter-spacing:0.03px;left:559.50px;width:41.00px;text-align:center;transform:scaleX(0.92);transform-origin:50% 0;">0.85</div>
<div class="t" style="top:635.27px;font-size:8.6px;line-height:8.6px;color:#3f352e;font-weight:normal;font-style:normal;letter-spacing:0.03px;left:600.50px;width:41.00px;text-align:center;transform:scaleX(0.92);transform-origin:50% 0;">0.85</div>
<div class="t" style="top:645.72px;font-size:8.6px;line-height:8.6px;color:#3f352e;font-weight:normal;font-style:normal;letter-spacing:0.03px;left:54.00px;transform:scaleX(0.878);transform-origin:0 0;">Duration of "electrical blackout" I - II (s)</div>
<div class="t" style="top:645.72px;font-size:8.6px;line-height:8.6px;color:#3f352e;font-weight:normal;font-style:normal;letter-spacing:0.03px;left:315.50px;width:40.00px;text-align:center;transform:scaleX(0.92);transform-origin:50% 0;">0.3</div>
<div class="t" style="top:645.72px;font-size:8.6px;line-height:8.6px;color:#3f352e;font-weight:normal;font-style:normal;letter-spacing:0.03px;left:355.50px;width:41.00px;text-align:center;transform:scaleX(0.92);transform-origin:50% 0;">0.3</div>
<div class="t" style="top:645.72px;font-size:8.6px;line-height:8.6px;color:#3f352e;font-weight:normal;font-style:normal;letter-spacing:0.03px;left:396.50px;width:41.00px;text-align:center;transform:scaleX(0.92);transform-origin:50% 0;">0.3</div>
<div class="t" style="top:645.72px;font-size:8.6px;line-height:8.6px;color:#3f352e;font-weight:normal;font-style:normal;letter-spacing:0.03px;left:437.50px;width:41.00px;text-align:center;transform:scaleX(0.92);transform-origin:50% 0;">0.6</div>
<div class="t" style="top:645.72px;font-size:8.6px;line-height:8.6px;color:#3f352e;font-weight:normal;font-style:normal;letter-spacing:0.03px;left:478.50px;width:41.00px;text-align:center;transform:scaleX(0.92);transform-origin:50% 0;">0.6</div>
<div class="t" style="top:645.72px;font-size:8.6px;line-height:8.6px;color:#3f352e;font-weight:normal;font-style:normal;letter-spacing:0.03px;left:519.50px;width:40.00px;text-align:center;transform:scaleX(0.92);transform-origin:50% 0;">0.6</div>
<div class="t" style="top:645.72px;font-size:8.6px;line-height:8.6px;color:#3f352e;font-weight:normal;font-style:normal;letter-spacing:0.03px;left:559.50px;width:41.00px;text-align:center;transform:scaleX(0.92);transform-origin:50% 0;">0.6</div>
<div class="t" style="top:645.72px;font-size:8.6px;line-height:8.6px;color:#3f352e;font-weight:normal;font-style:normal;letter-spacing:0.03px;left:600.50px;width:41.00px;text-align:center;transform:scaleX(0.92);transform-origin:50% 0;">0.6</div>
<div class="t h" style="top:659.92px;font-size:9.9px;line-height:9.9px;color:#1c1e2c;font-weight:normal;font-style:normal;letter-spacing:0.1px;left:47.80px;transform:scaleX(0.955);transform-origin:0 0;white-space:nowrap;">Power supply</div>
<div style="left:46.00px;top:671.80px;width:595.50px;height:9.70px;background:#fde0bb;"></div>
<div style="left:315.00px;top:671.80px;width:1.00px;height:9.70px;background:#f5b374;"></div>
<div style="left:355.00px;top:671.80px;width:1.00px;height:9.70px;background:#f5b374;"></div>
<div style="left:396.00px;top:671.80px;width:1.00px;height:9.70px;background:#f5b374;"></div>
<div style="left:437.00px;top:671.80px;width:1.00px;height:9.70px;background:#f5b374;"></div>
<div style="left:478.00px;top:671.80px;width:1.00px;height:9.70px;background:#f5b374;"></div>
<div style="left:519.00px;top:671.80px;width:1.00px;height:9.70px;background:#f5b374;"></div>
<div style="left:559.00px;top:671.80px;width:1.00px;height:9.70px;background:#f5b374;"></div>
<div style="left:600.00px;top:671.80px;width:1.00px;height:9.70px;background:#f5b374;"></div>
<div class="t" style="top:672.37px;font-size:8.6px;line-height:8.6px;color:#3f352e;font-weight:normal;font-style:normal;letter-spacing:0.03px;left:54.00px;transform:scaleX(0.878);transform-origin:0 0;">min / max (VAC)</div>
<div class="t" style="top:672.37px;font-size:8.6px;line-height:8.6px;color:#3f352e;font-weight:normal;font-style:normal;letter-spacing:0.03px;left:315.50px;width:40.00px;text-align:center;transform:scaleX(0.92);transform-origin:50% 0;">166/332</div>
<div class="t" style="top:672.37px;font-size:8.6px;line-height:8.6px;color:#3f352e;font-weight:normal;font-style:normal;letter-spacing:0.03px;left:355.50px;width:41.00px;text-align:center;transform:scaleX(0.92);transform-origin:50% 0;">166/332</div>
<div class="t" style="top:672.37px;font-size:8.6px;line-height:8.6px;color:#3f352e;font-weight:normal;font-style:normal;letter-spacing:0.03px;left:396.50px;width:41.00px;text-align:center;transform:scaleX(0.92);transform-origin:50% 0;">166/332</div>
<div class="t" style="top:672.37px;font-size:8.6px;line-height:8.6px;color:#3f352e;font-weight:normal;font-style:normal;letter-spacing:0.03px;left:437.50px;width:41.00px;text-align:center;transform:scaleX(0.92);transform-origin:50% 0;">166/332</div>
<div class="t" style="top:672.37px;font-size:8.6px;line-height:8.6px;color:#3f352e;font-weight:normal;font-style:normal;letter-spacing:0.03px;left:478.50px;width:41.00px;text-align:center;transform:scaleX(0.92);transform-origin:50% 0;">166/332</div>
<div class="t" style="top:672.37px;font-size:8.6px;line-height:8.6px;color:#3f352e;font-weight:normal;font-style:normal;letter-spacing:0.03px;left:519.50px;width:40.00px;text-align:center;transform:scaleX(0.92);transform-origin:50% 0;">166/332</div>
<div class="t" style="top:672.37px;font-size:8.6px;line-height:8.6px;color:#3f352e;font-weight:normal;font-style:normal;letter-spacing:0.03px;left:559.50px;width:41.00px;text-align:center;transform:scaleX(0.92);transform-origin:50% 0;">166/332</div>
<div class="t" style="top:672.37px;font-size:8.6px;line-height:8.6px;color:#3f352e;font-weight:normal;font-style:normal;letter-spacing:0.03px;left:600.50px;width:41.00px;text-align:center;transform:scaleX(0.92);transform-origin:50% 0;">166/332</div>
<div class="t h" style="top:686.22px;font-size:9.9px;line-height:9.9px;color:#1c1e2c;font-weight:normal;font-style:normal;letter-spacing:0.1px;left:47.80px;transform:scaleX(0.955);transform-origin:0 0;white-space:nowrap;">Control supply power demand</div>
<div style="left:46.00px;top:698.00px;width:595.50px;height:10.20px;background:#fde0bb;"></div>
<div style="left:46.00px;top:708.20px;width:595.50px;height:10.60px;background:#fdefdc;"></div>
<div style="left:46.00px;top:708.00px;width:595.50px;height:1.00px;background:#ffffff;"></div>
<div style="left:315.00px;top:698.00px;width:1.00px;height:20.80px;background:#f5b374;"></div>
<div style="left:355.00px;top:698.00px;width:1.00px;height:20.80px;background:#f5b374;"></div>
<div style="left:396.00px;top:698.00px;width:1.00px;height:20.80px;background:#f5b374;"></div>
<div style="left:437.00px;top:698.00px;width:1.00px;height:20.80px;background:#f5b374;"></div>
<div style="left:478.00px;top:698.00px;width:1.00px;height:20.80px;background:#f5b374;"></div>
<div style="left:519.00px;top:698.00px;width:1.00px;height:20.80px;background:#f5b374;"></div>
<div style="left:559.00px;top:698.00px;width:1.00px;height:20.80px;background:#f5b374;"></div>
<div style="left:600.00px;top:698.00px;width:1.00px;height:20.80px;background:#f5b374;"></div>
<div class="t" style="top:698.82px;font-size:8.6px;line-height:8.6px;color:#3f352e;font-weight:normal;font-style:normal;letter-spacing:0.03px;left:54.00px;transform:scaleX(0.878);transform-origin:0 0;">Power supply 230 VAC inrush / nominal (VA) - ATyS</div>
<div class="t" style="top:698.82px;font-size:8.6px;line-height:8.6px;color:#3f352e;font-weight:normal;font-style:normal;letter-spacing:0.03px;left:315.50px;width:40.00px;text-align:center;transform:scaleX(0.92);transform-origin:50% 0;">184/92</div>
<div class="t" style="top:698.82px;font-size:8.6px;line-height:8.6px;color:#3f352e;font-weight:normal;font-style:normal;letter-spacing:0.03px;left:355.50px;width:41.00px;text-align:center;transform:scaleX(0.92);transform-origin:50% 0;">184/92</div>
<div class="t" style="top:698.82px;font-size:8.6px;line-height:8.6px;color:#3f352e;font-weight:normal;font-style:normal;letter-spacing:0.03px;left:396.50px;width:41.00px;text-align:center;transform:scaleX(0.92);transform-origin:50% 0;">184/92</div>
<div class="t" style="top:698.82px;font-size:8.6px;line-height:8.6px;color:#3f352e;font-weight:normal;font-style:normal;letter-spacing:0.03px;left:437.50px;width:41.00px;text-align:center;transform:scaleX(0.92);transform-origin:50% 0;">276/115</div>
<div class="t" style="top:698.82px;font-size:8.6px;line-height:8.6px;color:#3f352e;font-weight:normal;font-style:normal;letter-spacing:0.03px;left:478.50px;width:41.00px;text-align:center;transform:scaleX(0.92);transform-origin:50% 0;">276/115</div>
<div class="t" style="top:698.82px;font-size:8.6px;line-height:8.6px;color:#3f352e;font-weight:normal;font-style:normal;letter-spacing:0.03px;left:519.50px;width:40.00px;text-align:center;transform:scaleX(0.92);transform-origin:50% 0;">276/115</div>
<div class="t" style="top:698.82px;font-size:8.6px;line-height:8.6px;color:#3f352e;font-weight:normal;font-style:normal;letter-spacing:0.03px;left:559.50px;width:41.00px;text-align:center;transform:scaleX(0.92);transform-origin:50% 0;">276/150</div>
<div class="t" style="top:698.82px;font-size:8.6px;line-height:8.6px;color:#3f352e;font-weight:normal;font-style:normal;letter-spacing:0.03px;left:600.50px;width:41.00px;text-align:center;transform:scaleX(0.92);transform-origin:50% 0;">276/150</div>
<div class="t" style="top:709.22px;font-size:8.6px;line-height:8.6px;color:#3f352e;font-weight:normal;font-style:normal;letter-spacing:0.03px;left:54.00px;transform:scaleX(0.878);transform-origin:0 0;">Power supply 230 VAC inrush / nominal (VA) - ATyS d, t, g, p</div>
<div class="t" style="top:709.22px;font-size:8.6px;line-height:8.6px;color:#3f352e;font-weight:normal;font-style:normal;letter-spacing:0.03px;left:315.50px;width:40.00px;text-align:center;transform:scaleX(0.92);transform-origin:50% 0;">206/114</div>
<div class="t" style="top:709.22px;font-size:8.6px;line-height:8.6px;color:#3f352e;font-weight:normal;font-style:normal;letter-spacing:0.03px;left:355.50px;width:41.00px;text-align:center;transform:scaleX(0.92);transform-origin:50% 0;">206/114</div>
<div class="t" style="top:709.22px;font-size:8.6px;line-height:8.6px;color:#3f352e;font-weight:normal;font-style:normal;letter-spacing:0.03px;left:396.50px;width:41.00px;text-align:center;transform:scaleX(0.92);transform-origin:50% 0;">206/114</div>
<div class="t" style="top:709.22px;font-size:8.6px;line-height:8.6px;color:#3f352e;font-weight:normal;font-style:normal;letter-spacing:0.03px;left:437.50px;width:41.00px;text-align:center;transform:scaleX(0.92);transform-origin:50% 0;">298/137</div>
<div class="t" style="top:709.22px;font-size:8.6px;line-height:8.6px;color:#3f352e;font-weight:normal;font-style:normal;letter-spacing:0.03px;left:478.50px;width:41.00px;text-align:center;transform:scaleX(0.92);transform-origin:50% 0;">298/137</div>
<div class="t" style="top:709.22px;font-size:8.6px;line-height:8.6px;color:#3f352e;font-weight:normal;font-style:normal;letter-spacing:0.03px;left:519.50px;width:40.00px;text-align:center;transform:scaleX(0.92);transform-origin:50% 0;">298/137</div>
<div class="t" style="top:709.22px;font-size:8.6px;line-height:8.6px;color:#3f352e;font-weight:normal;font-style:normal;letter-spacing:0.03px;left:559.50px;width:41.00px;text-align:center;transform:scaleX(0.92);transform-origin:50% 0;">298/172</div>
<div class="t" style="top:709.22px;font-size:8.6px;line-height:8.6px;color:#3f352e;font-weight:normal;font-style:normal;letter-spacing:0.03px;left:600.50px;width:41.00px;text-align:center;transform:scaleX(0.92);transform-origin:50% 0;">298/172</div>
<div class="t h" style="top:724.02px;font-size:9.9px;line-height:9.9px;color:#1c1e2c;font-weight:normal;font-style:normal;letter-spacing:0.1px;left:47.80px;transform:scaleX(0.955);transform-origin:0 0;white-space:nowrap;">Mechanical characteristics</div>
<div style="left:46.00px;top:735.30px;width:595.50px;height:10.50px;background:#fdefdc;"></div>
<div style="left:46.00px;top:745.80px;width:595.50px;height:10.60px;background:#fde0bb;"></div>
<div style="left:46.00px;top:745.00px;width:595.50px;height:1.00px;background:#ffffff;"></div>
<div style="left:46.00px;top:756.40px;width:595.50px;height:10.70px;background:#fdefdc;"></div>
<div style="left:46.00px;top:756.00px;width:595.50px;height:1.00px;background:#ffffff;"></div>
<div style="left:46.00px;top:767.10px;width:595.50px;height:10.70px;background:#fde0bb;"></div>
<div style="left:46.00px;top:767.00px;width:595.50px;height:1.00px;background:#ffffff;"></div>
<div style="left:315.00px;top:735.30px;width:1.00px;height:42.50px;background:#f5b374;"></div>
<div style="left:355.00px;top:735.30px;width:1.00px;height:42.50px;background:#f5b374;"></div>
<div style="left:396.00px;top:735.30px;width:1.00px;height:42.50px;background:#f5b374;"></div>
<div style="left:437.00px;top:735.30px;width:1.00px;height:42.50px;background:#f5b374;"></div>
<div style="left:478.00px;top:735.30px;width:1.00px;height:42.50px;background:#f5b374;"></div>
<div style="left:519.00px;top:735.30px;width:1.00px;height:42.50px;background:#f5b374;"></div>
<div style="left:559.00px;top:735.30px;width:1.00px;height:42.50px;background:#f5b374;"></div>
<div style="left:600.00px;top:735.30px;width:1.00px;height:42.50px;background:#f5b374;"></div>
<div class="t" style="top:736.27px;font-size:8.6px;line-height:8.6px;color:#3f352e;font-weight:normal;font-style:normal;letter-spacing:0.03px;left:54.00px;transform:scaleX(0.878);transform-origin:0 0;">Durability (number of operating cycles)</div>
<div class="t" style="top:736.27px;font-size:8.6px;line-height:8.6px;color:#3f352e;font-weight:normal;font-style:normal;letter-spacing:0.03px;left:315.50px;width:40.00px;text-align:center;transform:scaleX(0.92);transform-origin:50% 0;">10 000</div>
<div class="t" style="top:736.27px;font-size:8.6px;line-height:8.6px;color:#3f352e;font-weight:normal;font-style:normal;letter-spacing:0.03px;left:355.50px;width:41.00px;text-align:center;transform:scaleX(0.92);transform-origin:50% 0;">10 000</div>
<div class="t" style="top:736.27px;font-size:8.6px;line-height:8.6px;color:#3f352e;font-weight:normal;font-style:normal;letter-spacing:0.03px;left:396.50px;width:41.00px;text-align:center;transform:scaleX(0.92);transform-origin:50% 0;">10 000</div>
<div class="t" style="top:736.27px;font-size:8.6px;line-height:8.6px;color:#3f352e;font-weight:normal;font-style:normal;letter-spacing:0.03px;left:437.50px;width:41.00px;text-align:center;transform:scaleX(0.92);transform-origin:50% 0;">8 000</div>
<div class="t" style="top:736.27px;font-size:8.6px;line-height:8.6px;color:#3f352e;font-weight:normal;font-style:normal;letter-spacing:0.03px;left:478.50px;width:41.00px;text-align:center;transform:scaleX(0.92);transform-origin:50% 0;">8 000</div>
<div class="t" style="top:736.27px;font-size:8.6px;line-height:8.6px;color:#3f352e;font-weight:normal;font-style:normal;letter-spacing:0.03px;left:519.50px;width:40.00px;text-align:center;transform:scaleX(0.92);transform-origin:50% 0;">8 000</div>
<div class="t" style="top:736.27px;font-size:8.6px;line-height:8.6px;color:#3f352e;font-weight:normal;font-style:normal;letter-spacing:0.03px;left:559.50px;width:41.00px;text-align:center;transform:scaleX(0.92);transform-origin:50% 0;">5 000</div>
<div class="t" style="top:736.27px;font-size:8.6px;line-height:8.6px;color:#3f352e;font-weight:normal;font-style:normal;letter-spacing:0.03px;left:600.50px;width:41.00px;text-align:center;transform:scaleX(0.92);transform-origin:50% 0;">5 000</div>
<div class="t" style="top:746.82px;font-size:8.6px;line-height:8.6px;color:#3f352e;font-weight:normal;font-style:normal;letter-spacing:0.03px;left:54.00px;transform:scaleX(0.878);transform-origin:0 0;">Weight ATyS 3/4 P (kg)</div>
<div class="t" style="top:746.82px;font-size:8.6px;line-height:8.6px;color:#3f352e;font-weight:normal;font-style:normal;letter-spacing:0.03px;left:315.50px;width:40.00px;text-align:center;transform:scaleX(0.92);transform-origin:50% 0;">5.7 / 6.9</div>
<div class="t" style="top:746.82px;font-size:8.6px;line-height:8.6px;color:#3f352e;font-weight:normal;font-style:normal;letter-spacing:0.03px;left:355.50px;width:41.00px;text-align:center;transform:scaleX(0.92);transform-origin:50% 0;">5.7 / 6.9</div>
<div class="t" style="top:746.82px;font-size:8.6px;line-height:8.6px;color:#3f352e;font-weight:normal;font-style:normal;letter-spacing:0.03px;left:396.50px;width:41.00px;text-align:center;transform:scaleX(0.92);transform-origin:50% 0;">5.7 / 6.9</div>
<div class="t" style="top:746.82px;font-size:8.6px;line-height:8.6px;color:#3f352e;font-weight:normal;font-style:normal;letter-spacing:0.03px;left:437.50px;width:41.00px;text-align:center;transform:scaleX(0.92);transform-origin:50% 0;">6.6 / 7.4</div>
<div class="t" style="top:746.82px;font-size:8.6px;line-height:8.6px;color:#3f352e;font-weight:normal;font-style:normal;letter-spacing:0.03px;left:478.50px;width:41.00px;text-align:center;transform:scaleX(0.92);transform-origin:50% 0;">6.7 / 7.8</div>
<div class="t" style="top:746.82px;font-size:8.6px;line-height:8.6px;color:#3f352e;font-weight:normal;font-style:normal;letter-spacing:0.03px;left:519.50px;width:40.00px;text-align:center;transform:scaleX(0.92);transform-origin:50% 0;">6.7 / 7.8</div>
<div class="t" style="top:746.82px;font-size:8.6px;line-height:8.6px;color:#3f352e;font-weight:normal;font-style:normal;letter-spacing:0.03px;left:559.50px;width:41.00px;text-align:center;transform:scaleX(0.92);transform-origin:50% 0;">11.4 / 13.3</div>
<div class="t" style="top:746.82px;font-size:8.6px;line-height:8.6px;color:#3f352e;font-weight:normal;font-style:normal;letter-spacing:0.03px;left:600.50px;width:41.00px;text-align:center;transform:scaleX(0.92);transform-origin:50% 0;">11.9 / 14.0</div>
<div class="t" style="top:757.47px;font-size:8.6px;line-height:8.6px;color:#3f352e;font-weight:normal;font-style:normal;letter-spacing:0.03px;left:54.00px;transform:scaleX(0.878);transform-origin:0 0;">Weight ATyS d 3/4 P (kg)</div>
<div class="t" style="top:757.47px;font-size:8.6px;line-height:8.6px;color:#3f352e;font-weight:normal;font-style:normal;letter-spacing:0.03px;left:315.50px;width:40.00px;text-align:center;transform:scaleX(0.92);transform-origin:50% 0;">6.3 / 7.5</div>
<div class="t" style="top:757.47px;font-size:8.6px;line-height:8.6px;color:#3f352e;font-weight:normal;font-style:normal;letter-spacing:0.03px;left:355.50px;width:41.00px;text-align:center;transform:scaleX(0.92);transform-origin:50% 0;">6.3 / 7.5</div>
<div class="t" style="top:757.47px;font-size:8.6px;line-height:8.6px;color:#3f352e;font-weight:normal;font-style:normal;letter-spacing:0.03px;left:396.50px;width:41.00px;text-align:center;transform:scaleX(0.92);transform-origin:50% 0;">6.3 / 7.5</div>
<div class="t" style="top:757.47px;font-size:8.6px;line-height:8.6px;color:#3f352e;font-weight:normal;font-style:normal;letter-spacing:0.03px;left:437.50px;width:41.00px;text-align:center;transform:scaleX(0.92);transform-origin:50% 0;">7.2 / 8.0</div>
<div class="t" style="top:757.47px;font-size:8.6px;line-height:8.6px;color:#3f352e;font-weight:normal;font-style:normal;letter-spacing:0.03px;left:478.50px;width:41.00px;text-align:center;transform:scaleX(0.92);transform-origin:50% 0;">7.3 / 8.4</div>
<div class="t" style="top:757.47px;font-size:8.6px;line-height:8.6px;color:#3f352e;font-weight:normal;font-style:normal;letter-spacing:0.03px;left:519.50px;width:40.00px;text-align:center;transform:scaleX(0.92);transform-origin:50% 0;">7.3 / 8.4</div>
<div class="t" style="top:757.47px;font-size:8.6px;line-height:8.6px;color:#3f352e;font-weight:normal;font-style:normal;letter-spacing:0.03px;left:559.50px;width:41.00px;text-align:center;transform:scaleX(0.92);transform-origin:50% 0;">12.0 / 13.9</div>
<div class="t" style="top:757.47px;font-size:8.6px;line-height:8.6px;color:#3f352e;font-weight:normal;font-style:normal;letter-spacing:0.03px;left:600.50px;width:41.00px;text-align:center;transform:scaleX(0.92);transform-origin:50% 0;">12.5 / 14.6</div>
<div class="t" style="top:768.17px;font-size:8.6px;line-height:8.6px;color:#3f352e;font-weight:normal;font-style:normal;letter-spacing:0.03px;left:54.00px;transform:scaleX(0.878);transform-origin:0 0;">Weight ATyS r, t, g, p 3/4 P (kg)</div>
<div class="t" style="top:768.17px;font-size:8.6px;line-height:8.6px;color:#3f352e;font-weight:normal;font-style:normal;letter-spacing:0.03px;left:315.50px;width:40.00px;text-align:center;transform:scaleX(0.92);transform-origin:50% 0;">6.8 / 8.0</div>
<div class="t" style="top:768.17px;font-size:8.6px;line-height:8.6px;color:#3f352e;font-weight:normal;font-style:normal;letter-spacing:0.03px;left:355.50px;width:41.00px;text-align:center;transform:scaleX(0.92);transform-origin:50% 0;">6.8 / 8.0</div>
<div class="t" style="top:768.17px;font-size:8.6px;line-height:8.6px;color:#3f352e;font-weight:normal;font-style:normal;letter-spacing:0.03px;left:396.50px;width:41.00px;text-align:center;transform:scaleX(0.92);transform-origin:50% 0;">6.8 / 8.0</div>
<div class="t" style="top:768.17px;font-size:8.6px;line-height:8.6px;color:#3f352e;font-weight:normal;font-style:normal;letter-spacing:0.03px;left:437.50px;width:41.00px;text-align:center;transform:scaleX(0.92);transform-origin:50% 0;">7.7 / 8.5</div>
<div class="t" style="top:768.17px;font-size:8.6px;line-height:8.6px;color:#3f352e;font-weight:normal;font-style:normal;letter-spacing:0.03px;left:478.50px;width:41.00px;text-align:center;transform:scaleX(0.92);transform-origin:50% 0;">7.8 / 8.9</div>
<div class="t" style="top:768.17px;font-size:8.6px;line-height:8.6px;color:#3f352e;font-weight:normal;font-style:normal;letter-spacing:0.03px;left:519.50px;width:40.00px;text-align:center;transform:scaleX(0.92);transform-origin:50% 0;">7.8 / 8.9</div>
<div class="t" style="top:768.17px;font-size:8.6px;line-height:8.6px;color:#3f352e;font-weight:normal;font-style:normal;letter-spacing:0.03px;left:559.50px;width:41.00px;text-align:center;transform:scaleX(0.92);transform-origin:50% 0;">12.5 / 14.4</div>
<div class="t" style="top:768.17px;font-size:8.6px;line-height:8.6px;color:#3f352e;font-weight:normal;font-style:normal;letter-spacing:0.03px;left:600.50px;width:41.00px;text-align:center;transform:scaleX(0.92);transform-origin:50% 0;">13.0 / 15.1</div>
<div style="left:46.00px;top:777.40px;width:595.50px;height:1.00px;background:#f6c290;"></div>
<div style="left:600.00px;top:407.00px;width:1.00px;height:371.00px;background:#f5b374;"></div>
<div style="left:641.00px;top:33.20px;width:1.00px;height:745.20px;background:#f4ae6c;"></div>
<div class="t" style="top:783.94px;font-size:6.8px;line-height:6.8px;color:#3f3a36;font-weight:normal;font-style:italic;letter-spacing:0.0px;left:46.20px;white-space:nowrap;-webkit-text-stroke:0;">(1) Category with index A = frequent operation - Category with</div>
<div class="t" style="top:793.64px;font-size:6.8px;line-height:6.8px;color:#3f3a36;font-weight:normal;font-style:italic;letter-spacing:0.0px;left:55.30px;white-space:nowrap;-webkit-text-stroke:0;">index B = infrequent operation.</div>
<div class="t" style="top:803.64px;font-size:6.8px;line-height:6.8px;color:#3f3a36;font-weight:normal;font-style:italic;letter-spacing:0.0px;left:46.20px;white-space:nowrap;-webkit-text-stroke:0;">(2) 3-pole device with 2 pole in series for the "+" and 1 pole for</div>
<div class="t" style="top:812.64px;font-size:6.8px;line-height:6.8px;color:#3f3a36;font-weight:normal;font-style:italic;letter-spacing:0.0px;left:55.30px;white-space:nowrap;-webkit-text-stroke:0;">the "-". 4-pole device with 2 poles in series by polarity.</div>
<div class="t" style="top:783.54px;font-size:6.8px;line-height:6.8px;color:#3f3a36;font-weight:normal;font-style:italic;letter-spacing:0.0px;left:247.40px;white-space:nowrap;-webkit-text-stroke:0;">(3) At 415 VAC.</div>
<div class="t" style="top:793.64px;font-size:6.8px;line-height:6.8px;color:#3f3a36;font-weight:normal;font-style:italic;letter-spacing:0.0px;left:247.40px;white-space:nowrap;-webkit-text-stroke:0;">(4) Value for coordination with any circuit-breaker that ensures</div>
<div class="t" style="top:803.64px;font-size:6.8px;line-height:6.8px;color:#3f3a36;font-weight:normal;font-style:italic;letter-spacing:0.0px;left:258.60px;white-space:nowrap;-webkit-text-stroke:0;">tripping in less than 0.3s.</div>
<div class="t" style="top:783.74px;font-size:6.8px;line-height:6.8px;color:#3f3a36;font-weight:normal;font-style:italic;letter-spacing:0.0px;left:452.30px;white-space:nowrap;-webkit-text-stroke:0;">For coordination with specific circuit-breaker references, higher</div>
<div class="t" style="top:793.84px;font-size:6.8px;line-height:6.8px;color:#3f3a36;font-weight:normal;font-style:italic;letter-spacing:0.0px;left:452.30px;white-space:nowrap;-webkit-text-stroke:0;">short-circuit current values are available. Please consult us.</div>
<div class="t" style="top:803.94px;font-size:6.8px;line-height:6.8px;color:#3f3a36;font-weight:normal;font-style:italic;letter-spacing:0.0px;left:452.30px;white-space:nowrap;-webkit-text-stroke:0;">(5) At 30ms.</div>
<div class="t" style="top:894.93px;font-size:10.0px;line-height:10.0px;color:#111111;font-weight:normal;font-style:normal;letter-spacing:0.0px;left:10.00px;-webkit-text-stroke:0.3px currentColor;">38</div>
<div style="left:29.20px;top:892.30px;width:22.60px;height:15.30px;background:#1b1b1b;"></div>
<div class="t" style="top:894.40px;font-size:10.4px;line-height:10.4px;color:#ffffff;font-weight:bold;font-style:normal;letter-spacing:0.0px;left:29.20px;width:22.60px;text-align:center;-webkit-text-stroke:0;">EN</div>
<div class="t" style="top:895.37px;font-size:8.3px;line-height:8.3px;color:#333333;font-weight:normal;font-style:normal;letter-spacing:0.0px;left:425.50px;width:200.00px;text-align:right;-webkit-text-stroke:0;">ATyS r - 541 630 B - SOCOMEC</div>
<svg style="position:absolute;left:0;top:0" width="651" height="916" viewBox="0 0 651 916">
<defs><filter id="bl" x="-10%" y="-10%" width="120%" height="120%"><feGaussianBlur stdDeviation="0.45"/></filter></defs>
<g filter="url(#bl)">
<ellipse cx="84.7" cy="854.2" rx="31.5" ry="30.8" fill="#c6c6c8"/>
<ellipse cx="84.7" cy="854.2" rx="24.8" ry="23.9" fill="#f3eca6"/>
<ellipse cx="84.7" cy="854.2" rx="15.8" ry="15.8" fill="#ffffff"/>
<polygon points="86,857.2 120,857.2 120,892 112,892 106.2,879.6 95.6,868.6 90,860" fill="#ffffff"/>
<rect x="69" y="851" width="47.2" height="6.2" fill="#c6c6c8"/>
<rect x="119.3" y="826.4" width="128" height="3.2" fill="#c6c6c6"/>
<rect x="119.3" y="882.3" width="128" height="3.1" fill="#f1eaa8"/>
<text x="121.8" y="850.8" font-family="Liberation Sans" font-weight="bold" font-size="23.5" textLength="13.6" lengthAdjust="spacingAndGlyphs" fill="#f3edb5" stroke="#f3edb5" stroke-width="4.4" stroke-linejoin="miter">L</text>
<text x="141.2" y="850.8" font-family="Liberation Sans" font-weight="bold" font-size="23.5" textLength="13.6" lengthAdjust="spacingAndGlyphs" fill="#f3edb5" stroke="#f3edb5" stroke-width="4.4" stroke-linejoin="miter">E</text>
<text x="161.0" y="850.8" font-family="Liberation Sans" font-weight="bold" font-size="23.5" textLength="16.0" lengthAdjust="spacingAndGlyphs" fill="#f3edb5" stroke="#f3edb5" stroke-width="4.4" stroke-linejoin="miter">C</text>
<text x="183.8" y="850.8" font-family="Liberation Sans" font-weight="bold" font-size="23.5" textLength="16.7" lengthAdjust="spacingAndGlyphs" fill="#f3edb5" stroke="#f3edb5" stroke-width="4.4" stroke-linejoin="miter">T</text>
<text x="205.3" y="850.8" font-family="Liberation Sans" font-weight="bold" font-size="23.5" textLength="18.7" lengthAdjust="spacingAndGlyphs" fill="#f3edb5" stroke="#f3edb5" stroke-width="4.4" stroke-linejoin="miter">R</text>
<text x="227.4" y="850.8" font-family="Liberation Sans" font-weight="bold" font-size="23.5" textLength="16.0" lengthAdjust="spacingAndGlyphs" fill="#f3edb5" stroke="#f3edb5" stroke-width="4.4" stroke-linejoin="miter">O</text>
<text x="121.8" y="850.8" font-family="Liberation Sans" font-weight="bold" font-size="23.5" textLength="13.6" lengthAdjust="spacingAndGlyphs" fill="#bcbcc2" stroke="#bcbcc2" stroke-width="2.6" stroke-linejoin="miter">L</text>
<text x="141.2" y="850.8" font-family="Liberation Sans" font-weight="bold" font-size="23.5" textLength="13.6" lengthAdjust="spacingAndGlyphs" fill="#bcbcc2" stroke="#bcbcc2" stroke-width="2.6" stroke-linejoin="miter">E</text>
<text x="161.0" y="850.8" font-family="Liberation Sans" font-weight="bold" font-size="23.5" textLength="16.0" lengthAdjust="spacingAndGlyphs" fill="#bcbcc2" stroke="#bcbcc2" stroke-width="2.6" stroke-linejoin="miter">C</text>
<text x="183.8" y="850.8" font-family="Liberation Sans" font-weight="bold" font-size="23.5" textLength="16.7" lengthAdjust="spacingAndGlyphs" fill="#bcbcc2" stroke="#bcbcc2" stroke-width="2.6" stroke-linejoin="miter">T</text>
<text x="205.3" y="850.8" font-family="Liberation Sans" font-weight="bold" font-size="23.5" textLength="18.7" lengthAdjust="spacingAndGlyphs" fill="#bcbcc2" stroke="#bcbcc2" stroke-width="2.6" stroke-linejoin="miter">R</text>
<text x="227.4" y="850.8" font-family="Liberation Sans" font-weight="bold" font-size="23.5" textLength="16.0" lengthAdjust="spacingAndGlyphs" fill="#bcbcc2" stroke="#bcbcc2" stroke-width="2.6" stroke-linejoin="miter">O</text>
<text x="120.8" y="876.6" font-family="Liberation Sans" font-weight="bold" font-size="24.5" textLength="17.3" lengthAdjust="spacingAndGlyphs" fill="#c6c4be" stroke="#c6c4be" stroke-width="4.0" stroke-linejoin="miter">O</text>
<text x="143.9" y="876.6" font-family="Liberation Sans" font-weight="bold" font-size="24.5" textLength="15.7" lengthAdjust="spacingAndGlyphs" fill="#c6c4be" stroke="#c6c4be" stroke-width="4.0" stroke-linejoin="miter">N</text>
<text x="165.0" y="876.6" font-family="Liberation Sans" font-weight="bold" font-size="24.5" textLength="17.0" lengthAdjust="spacingAndGlyphs" fill="#c6c4be" stroke="#c6c4be" stroke-width="4.0" stroke-linejoin="miter">T</text>
<text x="186.6" y="876.6" font-family="Liberation Sans" font-weight="bold" font-size="24.5" textLength="18.0" lengthAdjust="spacingAndGlyphs" fill="#c6c4be" stroke="#c6c4be" stroke-width="4.0" stroke-linejoin="miter">R</text>
<text x="208.7" y="876.6" font-family="Liberation Sans" font-weight="bold" font-size="24.5" textLength="18.1" lengthAdjust="spacingAndGlyphs" fill="#c6c4be" stroke="#c6c4be" stroke-width="4.0" stroke-linejoin="miter">O</text>
<text x="230.8" y="876.6" font-family="Liberation Sans" font-weight="bold" font-size="24.5" textLength="13.2" lengthAdjust="spacingAndGlyphs" fill="#c6c4be" stroke="#c6c4be" stroke-width="4.0" stroke-linejoin="miter">L</text>
<text x="120.8" y="876.6" font-family="Liberation Sans" font-weight="bold" font-size="24.5" textLength="17.3" lengthAdjust="spacingAndGlyphs" fill="#f5eea6" stroke="#f5eea6" stroke-width="2.0" stroke-linejoin="miter">O</text>
<text x="143.9" y="876.6" font-family="Liberation Sans" font-weight="bold" font-size="24.5" textLength="15.7" lengthAdjust="spacingAndGlyphs" fill="#f5eea6" stroke="#f5eea6" stroke-width="2.0" stroke-linejoin="miter">N</text>
<text x="165.0" y="876.6" font-family="Liberation Sans" font-weight="bold" font-size="24.5" textLength="17.0" lengthAdjust="spacingAndGlyphs" fill="#f5eea6" stroke="#f5eea6" stroke-width="2.0" stroke-linejoin="miter">T</text>
<text x="186.6" y="876.6" font-family="Liberation Sans" font-weight="bold" font-size="24.5" textLength="18.0" lengthAdjust="spacingAndGlyphs" fill="#f5eea6" stroke="#f5eea6" stroke-width="2.0" stroke-linejoin="miter">R</text>
<text x="208.7" y="876.6" font-family="Liberation Sans" font-weight="bold" font-size="24.5" textLength="18.1" lengthAdjust="spacingAndGlyphs" fill="#f5eea6" stroke="#f5eea6" stroke-width="2.0" stroke-linejoin="miter">O</text>
<text x="230.8" y="876.6" font-family="Liberation Sans" font-weight="bold" font-size="24.5" textLength="13.2" lengthAdjust="spacingAndGlyphs" fill="#f5eea6" stroke="#f5eea6" stroke-width="2.0" stroke-linejoin="miter">L</text>
</g>
</svg>
</div></body></html>
